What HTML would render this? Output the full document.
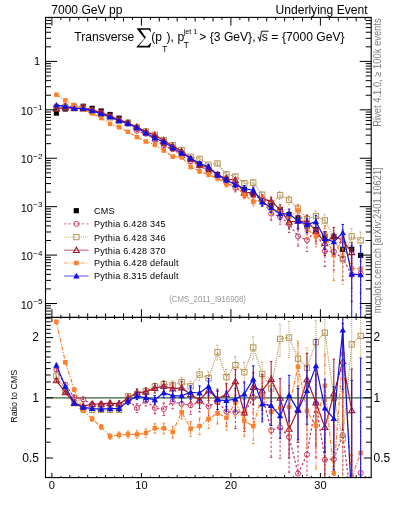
<!DOCTYPE html><html><head><meta charset="utf-8"><style>html,body{margin:0;padding:0;background:#fff;width:393px;height:512px;overflow:hidden}svg{display:block;will-change:transform}</style></head><body>
<svg width="393" height="512" viewBox="0 0 393 512" font-family='"Liberation Sans", sans-serif'>
<defs>
<clipPath id="ct"><rect x="45.5" y="17.4" width="325.7" height="300.0"/></clipPath>
<clipPath id="cr"><rect x="45.5" y="317.4" width="325.7" height="160.20000000000005"/></clipPath>
</defs>
<g clip-path="url(#ct)">
<rect x="53.77" y="110.50" width="5.2" height="5.2" fill="#000"/>
<rect x="62.73" y="106.40" width="5.2" height="5.2" fill="#000"/>
<rect x="71.68" y="104.40" width="5.2" height="5.2" fill="#000"/>
<rect x="80.62" y="103.70" width="5.2" height="5.2" fill="#000"/>
<rect x="89.58" y="105.70" width="5.2" height="5.2" fill="#000"/>
<rect x="98.53" y="108.40" width="5.2" height="5.2" fill="#000"/>
<rect x="107.47" y="111.90" width="5.2" height="5.2" fill="#000"/>
<rect x="116.43" y="115.60" width="5.2" height="5.2" fill="#000"/>
<rect x="125.38" y="120.30" width="5.2" height="5.2" fill="#000"/>
<rect x="134.32" y="125.60" width="5.2" height="5.2" fill="#000"/>
<rect x="143.28" y="130.40" width="5.2" height="5.2" fill="#000"/>
<rect x="152.22" y="134.90" width="5.2" height="5.2" fill="#000"/>
<rect x="161.17" y="140.60" width="5.2" height="5.2" fill="#000"/>
<rect x="170.12" y="145.70" width="5.2" height="5.2" fill="#000"/>
<rect x="179.07" y="151.20" width="5.2" height="5.2" fill="#000"/>
<rect x="188.03" y="156.90" width="5.2" height="5.2" fill="#000"/>
<rect x="196.97" y="161.90" width="5.2" height="5.2" fill="#000"/>
<rect x="205.93" y="166.90" width="5.2" height="5.2" fill="#000"/>
<rect x="214.88" y="171.90" width="5.2" height="5.2" fill="#000"/>
<rect x="223.82" y="176.70" width="5.2" height="5.2" fill="#000"/>
<rect x="232.78" y="181.80" width="5.2" height="5.2" fill="#000"/>
<rect x="241.72" y="186.80" width="5.2" height="5.2" fill="#000"/>
<rect x="250.67" y="192.20" width="5.2" height="5.2" fill="#000"/>
<rect x="259.62" y="197.90" width="5.2" height="5.2" fill="#000"/>
<rect x="268.57" y="203.20" width="5.2" height="5.2" fill="#000"/>
<rect x="277.52" y="206.90" width="5.2" height="5.2" fill="#000"/>
<rect x="286.47" y="211.90" width="5.2" height="5.2" fill="#000"/>
<rect x="295.42" y="215.40" width="5.2" height="5.2" fill="#000"/>
<rect x="304.37" y="223.70" width="5.2" height="5.2" fill="#000"/>
<rect x="313.32" y="226.90" width="5.2" height="5.2" fill="#000"/>
<rect x="322.27" y="233.60" width="5.2" height="5.2" fill="#000"/>
<rect x="331.22" y="234.20" width="5.2" height="5.2" fill="#000"/>
<rect x="340.17" y="246.70" width="5.2" height="5.2" fill="#000"/>
<rect x="349.12" y="246.70" width="5.2" height="5.2" fill="#000"/>
<rect x="358.07" y="252.80" width="5.2" height="5.2" fill="#000"/>
<polyline points="56.38,106.33 65.33,105.82 74.28,106.90 83.22,106.68 92.17,109.94 101.12,112.64 110.07,116.14 119.03,119.84 127.97,123.54 136.92,130.67 145.88,133.73 154.82,139.97 163.77,145.91 172.72,149.20 181.67,155.30 190.62,161.30 199.57,165.47 208.53,171.55 217.47,175.56 226.42,182.62 235.38,187.87 244.32,193.07 253.27,194.80 262.22,199.88 271.17,213.66 280.12,216.67 289.07,223.98 298.02,236.34 306.97,240.05 315.92,230.80 324.87,251.20 333.82,251.67 342.77,258.36 351.72,274.62 360.67,273.59" fill="none" stroke="#c8325f" stroke-width="1.2" stroke-dasharray="2.4,2.1"/>
<path d="M56.38,105.93 V106.73 M55.17,105.93 H57.58 M55.17,106.73 H57.58 M65.33,105.38 V106.28 M64.12,105.38 H66.53 M64.12,106.28 H66.53 M74.28,106.40 V107.40 M73.08,106.40 H75.48 M73.08,107.40 H75.48 M83.22,106.13 V107.25 M82.02,106.13 H84.42 M82.02,107.25 H84.42 M92.17,109.32 V110.57 M90.97,109.32 H93.38 M90.97,110.57 H93.38 M101.12,111.95 V113.35 M99.92,111.95 H102.33 M99.92,113.35 H102.33 M110.07,115.38 V116.93 M108.87,115.38 H111.27 M108.87,116.93 H111.27 M119.03,118.99 V120.73 M117.83,118.99 H120.23 M117.83,120.73 H120.23 M127.97,122.59 V124.53 M126.77,122.59 H129.17 M126.77,124.53 H129.17 M136.92,129.62 V131.78 M135.72,129.62 H138.12 M135.72,131.78 H138.12 M145.88,132.55 V134.97 M144.68,132.55 H147.07 M144.68,134.97 H147.07 M154.82,138.67 V141.37 M153.62,138.67 H156.02 M153.62,141.37 H156.02 M163.77,144.46 V147.47 M162.57,144.46 H164.97 M162.57,147.47 H164.97 M172.72,147.59 V150.95 M171.53,147.59 H173.92 M171.53,150.95 H173.92 M181.67,153.51 V157.27 M180.47,153.51 H182.87 M180.47,157.27 H182.87 M190.62,159.30 V163.50 M189.43,159.30 H191.82 M189.43,163.50 H191.82 M199.57,163.25 V167.94 M198.38,163.25 H200.77 M198.38,167.94 H200.77 M208.53,169.09 V174.34 M207.33,169.09 H209.72 M207.33,174.34 H209.72 M217.47,172.83 V178.69 M216.28,172.83 H218.67 M216.28,178.69 H218.67 M226.42,179.60 V186.15 M225.22,179.60 H227.62 M225.22,186.15 H227.62 M235.38,184.52 V191.85 M234.18,184.52 H236.57 M234.18,191.85 H236.57 M244.32,189.36 V197.56 M243.12,189.36 H245.52 M243.12,197.56 H245.52 M253.27,190.71 V199.89 M252.07,190.71 H254.47 M252.07,199.89 H254.47 M262.22,195.36 V205.65 M261.02,195.36 H263.42 M261.02,205.65 H263.42 M271.17,208.67 V220.22 M269.97,208.67 H272.37 M269.97,220.22 H272.37 M280.12,211.17 V224.14 M278.93,211.17 H281.32 M278.93,224.14 H281.32 M289.07,217.93 V232.52 M287.88,217.93 H290.27 M287.88,232.52 H290.27 M298.02,229.68 V246.14 M296.82,229.68 H299.22 M296.82,246.14 H299.22 M306.97,232.74 V251.35 M305.77,232.74 H308.17 M305.77,251.35 H308.17 M315.92,222.78 V243.92 M314.72,222.78 H317.12 M314.72,243.92 H317.12 M324.87,242.42 V266.55 M323.67,242.42 H326.07 M323.67,266.55 H326.07 M333.82,242.08 V269.83 M332.62,242.08 H335.02 M332.62,269.83 H335.02 M342.77,247.88 V280.17 M341.57,247.88 H343.97 M341.57,280.17 H343.97 M351.72,263.21 V301.44 M350.52,263.21 H352.92 M350.52,301.44 H352.92 M360.67,261.18 V307.91 M359.47,261.18 H361.87 M359.47,307.91 H361.87" stroke="#c8325f" stroke-width="1" stroke-dasharray="2.4,2.1" fill="none"/>
<circle cx="56.38" cy="106.33" r="2.55" fill="none" stroke="#c8325f" stroke-width="0.95"/>
<circle cx="65.33" cy="105.82" r="2.55" fill="none" stroke="#c8325f" stroke-width="0.95"/>
<circle cx="74.28" cy="106.90" r="2.55" fill="none" stroke="#c8325f" stroke-width="0.95"/>
<circle cx="83.22" cy="106.68" r="2.55" fill="none" stroke="#c8325f" stroke-width="0.95"/>
<circle cx="92.17" cy="109.94" r="2.55" fill="none" stroke="#c8325f" stroke-width="0.95"/>
<circle cx="101.12" cy="112.64" r="2.55" fill="none" stroke="#c8325f" stroke-width="0.95"/>
<circle cx="110.07" cy="116.14" r="2.55" fill="none" stroke="#c8325f" stroke-width="0.95"/>
<circle cx="119.03" cy="119.84" r="2.55" fill="none" stroke="#c8325f" stroke-width="0.95"/>
<circle cx="127.97" cy="123.54" r="2.55" fill="none" stroke="#c8325f" stroke-width="0.95"/>
<circle cx="136.92" cy="130.67" r="2.55" fill="none" stroke="#c8325f" stroke-width="0.95"/>
<circle cx="145.88" cy="133.73" r="2.55" fill="none" stroke="#c8325f" stroke-width="0.95"/>
<circle cx="154.82" cy="139.97" r="2.55" fill="none" stroke="#c8325f" stroke-width="0.95"/>
<circle cx="163.77" cy="145.91" r="2.55" fill="none" stroke="#c8325f" stroke-width="0.95"/>
<circle cx="172.72" cy="149.20" r="2.55" fill="none" stroke="#c8325f" stroke-width="0.95"/>
<circle cx="181.67" cy="155.30" r="2.55" fill="none" stroke="#c8325f" stroke-width="0.95"/>
<circle cx="190.62" cy="161.30" r="2.55" fill="none" stroke="#c8325f" stroke-width="0.95"/>
<circle cx="199.57" cy="165.47" r="2.55" fill="none" stroke="#c8325f" stroke-width="0.95"/>
<circle cx="208.53" cy="171.55" r="2.55" fill="none" stroke="#c8325f" stroke-width="0.95"/>
<circle cx="217.47" cy="175.56" r="2.55" fill="none" stroke="#c8325f" stroke-width="0.95"/>
<circle cx="226.42" cy="182.62" r="2.55" fill="none" stroke="#c8325f" stroke-width="0.95"/>
<circle cx="235.38" cy="187.87" r="2.55" fill="none" stroke="#c8325f" stroke-width="0.95"/>
<circle cx="244.32" cy="193.07" r="2.55" fill="none" stroke="#c8325f" stroke-width="0.95"/>
<circle cx="253.27" cy="194.80" r="2.55" fill="none" stroke="#c8325f" stroke-width="0.95"/>
<circle cx="262.22" cy="199.88" r="2.55" fill="none" stroke="#c8325f" stroke-width="0.95"/>
<circle cx="271.17" cy="213.66" r="2.55" fill="none" stroke="#c8325f" stroke-width="0.95"/>
<circle cx="280.12" cy="216.67" r="2.55" fill="none" stroke="#c8325f" stroke-width="0.95"/>
<circle cx="289.07" cy="223.98" r="2.55" fill="none" stroke="#c8325f" stroke-width="0.95"/>
<circle cx="298.02" cy="236.34" r="2.55" fill="none" stroke="#c8325f" stroke-width="0.95"/>
<circle cx="306.97" cy="240.05" r="2.55" fill="none" stroke="#c8325f" stroke-width="0.95"/>
<circle cx="315.92" cy="230.80" r="2.55" fill="none" stroke="#c8325f" stroke-width="0.95"/>
<circle cx="324.87" cy="251.20" r="2.55" fill="none" stroke="#c8325f" stroke-width="0.95"/>
<circle cx="333.82" cy="251.67" r="2.55" fill="none" stroke="#c8325f" stroke-width="0.95"/>
<circle cx="342.77" cy="258.36" r="2.55" fill="none" stroke="#c8325f" stroke-width="0.95"/>
<circle cx="351.72" cy="274.62" r="2.55" fill="none" stroke="#c8325f" stroke-width="0.95"/>
<circle cx="360.67" cy="273.59" r="2.55" fill="none" stroke="#c8325f" stroke-width="0.95"/>
<polyline points="56.38,107.79 65.33,107.23 74.28,108.30 83.22,108.87 92.17,111.23 101.12,113.93 110.07,117.43 119.03,121.13 127.97,122.55 136.92,127.38 145.88,131.38 154.82,134.74 163.77,139.92 172.72,145.18 181.67,150.02 190.62,156.71 199.57,158.87 208.53,164.74 217.47,163.47 226.42,174.31 235.38,176.51 244.32,183.21 253.27,182.62 262.22,194.73 271.17,203.55 280.12,195.24 289.07,199.92 298.02,208.53 306.97,219.02 315.92,216.04 324.87,220.43 333.82,236.80 342.77,259.12 351.72,236.36 360.67,240.41" fill="none" stroke="#b38f4f" stroke-width="1.2" stroke-dasharray="1,1.1"/>
<path d="M56.38,107.55 V108.04 M55.17,107.55 H57.58 M55.17,108.04 H57.58 M65.33,106.95 V107.50 M64.12,106.95 H66.53 M64.12,107.50 H66.53 M74.28,108.00 V108.61 M73.08,108.00 H75.48 M73.08,108.61 H75.48 M83.22,108.53 V109.22 M82.02,108.53 H84.42 M82.02,109.22 H84.42 M92.17,110.85 V111.62 M90.97,110.85 H93.38 M90.97,111.62 H93.38 M101.12,113.50 V114.36 M99.92,113.50 H102.33 M99.92,114.36 H102.33 M110.07,116.96 V117.91 M108.87,116.96 H111.27 M108.87,117.91 H111.27 M119.03,120.60 V121.67 M117.83,120.60 H120.23 M117.83,121.67 H120.23 M127.97,121.96 V123.15 M126.77,121.96 H129.17 M126.77,123.15 H129.17 M136.92,126.72 V128.05 M135.72,126.72 H138.12 M135.72,128.05 H138.12 M145.88,130.65 V132.14 M144.68,130.65 H147.07 M144.68,132.14 H147.07 M154.82,133.93 V135.59 M153.62,133.93 H156.02 M153.62,135.59 H156.02 M163.77,139.01 V140.86 M162.57,139.01 H164.97 M162.57,140.86 H164.97 M172.72,144.17 V146.24 M171.53,144.17 H173.92 M171.53,146.24 H173.92 M181.67,148.90 V151.21 M180.47,148.90 H182.87 M180.47,151.21 H182.87 M190.62,155.46 V158.04 M189.43,155.46 H191.82 M189.43,158.04 H191.82 M199.57,157.48 V160.36 M198.38,157.48 H200.77 M198.38,160.36 H200.77 M208.53,163.19 V166.41 M207.33,163.19 H209.72 M207.33,166.41 H209.72 M217.47,161.75 V165.34 M216.28,161.75 H218.67 M216.28,165.34 H218.67 M226.42,172.40 V176.41 M225.22,172.40 H227.62 M225.22,176.41 H227.62 M235.38,174.39 V178.87 M234.18,174.39 H236.57 M234.18,178.87 H236.57 M244.32,180.86 V185.87 M243.12,180.86 H245.52 M243.12,185.87 H245.52 M253.27,180.00 V185.60 M252.07,180.00 H254.47 M252.07,185.60 H254.47 M262.22,191.83 V198.08 M261.02,191.83 H263.42 M261.02,198.08 H263.42 M271.17,200.34 V207.34 M269.97,200.34 H272.37 M269.97,207.34 H272.37 M280.12,191.69 V199.52 M278.93,191.69 H281.32 M278.93,199.52 H281.32 M289.07,196.00 V204.76 M287.88,196.00 H290.27 M287.88,204.76 H290.27 M298.02,204.19 V214.00 M296.82,204.19 H299.22 M296.82,214.00 H299.22 M306.97,214.22 V225.23 M305.77,214.22 H308.17 M305.77,225.23 H308.17 M315.92,210.75 V223.11 M314.72,210.75 H317.12 M314.72,223.11 H317.12 M324.87,214.61 V228.50 M323.67,214.61 H326.07 M323.67,228.50 H326.07 M333.82,230.40 V246.05 M332.62,230.40 H335.02 M332.62,246.05 H335.02 M342.77,247.96 V284.43 M341.57,247.96 H343.97 M341.57,284.43 H343.97 M351.72,228.64 V248.69 M350.52,228.64 H352.92 M350.52,248.69 H352.92 M360.67,231.95 V254.78 M359.47,231.95 H361.87 M359.47,254.78 H361.87" stroke="#b38f4f" stroke-width="1" stroke-dasharray="1,1.1" fill="none"/>
<rect x="53.73" y="105.14" width="5.30" height="5.30" fill="none" stroke="#b38f4f" stroke-width="0.95"/>
<rect x="62.68" y="104.58" width="5.30" height="5.30" fill="none" stroke="#b38f4f" stroke-width="0.95"/>
<rect x="71.62" y="105.65" width="5.30" height="5.30" fill="none" stroke="#b38f4f" stroke-width="0.95"/>
<rect x="80.57" y="106.22" width="5.30" height="5.30" fill="none" stroke="#b38f4f" stroke-width="0.95"/>
<rect x="89.52" y="108.58" width="5.30" height="5.30" fill="none" stroke="#b38f4f" stroke-width="0.95"/>
<rect x="98.47" y="111.28" width="5.30" height="5.30" fill="none" stroke="#b38f4f" stroke-width="0.95"/>
<rect x="107.42" y="114.78" width="5.30" height="5.30" fill="none" stroke="#b38f4f" stroke-width="0.95"/>
<rect x="116.38" y="118.48" width="5.30" height="5.30" fill="none" stroke="#b38f4f" stroke-width="0.95"/>
<rect x="125.32" y="119.90" width="5.30" height="5.30" fill="none" stroke="#b38f4f" stroke-width="0.95"/>
<rect x="134.27" y="124.73" width="5.30" height="5.30" fill="none" stroke="#b38f4f" stroke-width="0.95"/>
<rect x="143.22" y="128.73" width="5.30" height="5.30" fill="none" stroke="#b38f4f" stroke-width="0.95"/>
<rect x="152.17" y="132.09" width="5.30" height="5.30" fill="none" stroke="#b38f4f" stroke-width="0.95"/>
<rect x="161.12" y="137.27" width="5.30" height="5.30" fill="none" stroke="#b38f4f" stroke-width="0.95"/>
<rect x="170.07" y="142.53" width="5.30" height="5.30" fill="none" stroke="#b38f4f" stroke-width="0.95"/>
<rect x="179.02" y="147.37" width="5.30" height="5.30" fill="none" stroke="#b38f4f" stroke-width="0.95"/>
<rect x="187.97" y="154.06" width="5.30" height="5.30" fill="none" stroke="#b38f4f" stroke-width="0.95"/>
<rect x="196.92" y="156.22" width="5.30" height="5.30" fill="none" stroke="#b38f4f" stroke-width="0.95"/>
<rect x="205.88" y="162.09" width="5.30" height="5.30" fill="none" stroke="#b38f4f" stroke-width="0.95"/>
<rect x="214.82" y="160.82" width="5.30" height="5.30" fill="none" stroke="#b38f4f" stroke-width="0.95"/>
<rect x="223.77" y="171.66" width="5.30" height="5.30" fill="none" stroke="#b38f4f" stroke-width="0.95"/>
<rect x="232.72" y="173.86" width="5.30" height="5.30" fill="none" stroke="#b38f4f" stroke-width="0.95"/>
<rect x="241.67" y="180.56" width="5.30" height="5.30" fill="none" stroke="#b38f4f" stroke-width="0.95"/>
<rect x="250.62" y="179.97" width="5.30" height="5.30" fill="none" stroke="#b38f4f" stroke-width="0.95"/>
<rect x="259.57" y="192.08" width="5.30" height="5.30" fill="none" stroke="#b38f4f" stroke-width="0.95"/>
<rect x="268.52" y="200.90" width="5.30" height="5.30" fill="none" stroke="#b38f4f" stroke-width="0.95"/>
<rect x="277.48" y="192.59" width="5.30" height="5.30" fill="none" stroke="#b38f4f" stroke-width="0.95"/>
<rect x="286.43" y="197.27" width="5.30" height="5.30" fill="none" stroke="#b38f4f" stroke-width="0.95"/>
<rect x="295.38" y="205.88" width="5.30" height="5.30" fill="none" stroke="#b38f4f" stroke-width="0.95"/>
<rect x="304.32" y="216.37" width="5.30" height="5.30" fill="none" stroke="#b38f4f" stroke-width="0.95"/>
<rect x="313.27" y="213.39" width="5.30" height="5.30" fill="none" stroke="#b38f4f" stroke-width="0.95"/>
<rect x="322.22" y="217.78" width="5.30" height="5.30" fill="none" stroke="#b38f4f" stroke-width="0.95"/>
<rect x="331.17" y="234.15" width="5.30" height="5.30" fill="none" stroke="#b38f4f" stroke-width="0.95"/>
<rect x="340.12" y="256.47" width="5.30" height="5.30" fill="none" stroke="#b38f4f" stroke-width="0.95"/>
<rect x="349.07" y="233.71" width="5.30" height="5.30" fill="none" stroke="#b38f4f" stroke-width="0.95"/>
<rect x="358.02" y="237.76" width="5.30" height="5.30" fill="none" stroke="#b38f4f" stroke-width="0.95"/>
<polyline points="56.38,108.92 65.33,107.72 74.28,108.30 83.22,108.33 92.17,109.80 101.12,112.48 110.07,115.78 119.03,119.68 127.97,123.01 136.92,126.94 145.88,131.58 154.82,135.17 163.77,140.39 172.72,146.12 181.67,151.34 190.62,158.68 199.57,165.03 208.53,167.78 217.47,174.71 226.42,178.48 235.38,180.44 244.32,193.02 253.27,192.23 262.22,198.77 271.17,201.31 280.12,209.56 289.07,222.06 298.02,220.88 306.97,221.86 315.92,230.69 324.87,243.34 333.82,235.83 342.77,240.50 351.72,252.35" fill="none" stroke="#a51931" stroke-width="1.2"/>
<path d="M56.38,108.58 V109.26 M55.17,108.58 H57.58 M55.17,109.26 H57.58 M65.33,107.34 V108.10 M64.12,107.34 H66.53 M64.12,108.10 H66.53 M74.28,107.88 V108.73 M73.08,107.88 H75.48 M73.08,108.73 H75.48 M83.22,107.86 V108.81 M82.02,107.86 H84.42 M82.02,108.81 H84.42 M92.17,109.28 V110.34 M90.97,109.28 H93.38 M90.97,110.34 H93.38 M101.12,111.90 V113.08 M99.92,111.90 H102.33 M99.92,113.08 H102.33 M110.07,115.13 V116.45 M108.87,115.13 H111.27 M108.87,116.45 H111.27 M119.03,118.96 V120.43 M117.83,118.96 H120.23 M117.83,120.43 H120.23 M127.97,122.20 V123.84 M126.77,122.20 H129.17 M126.77,123.84 H129.17 M136.92,126.04 V127.87 M135.72,126.04 H138.12 M135.72,127.87 H138.12 M145.88,130.58 V132.62 M144.68,130.58 H147.07 M144.68,132.62 H147.07 M154.82,134.06 V136.35 M153.62,134.06 H156.02 M153.62,136.35 H156.02 M163.77,139.15 V141.70 M162.57,139.15 H164.97 M162.57,141.70 H164.97 M172.72,144.75 V147.60 M171.53,144.75 H173.92 M171.53,147.60 H173.92 M181.67,149.81 V152.99 M180.47,149.81 H182.87 M180.47,152.99 H182.87 M190.62,156.98 V160.52 M189.43,156.98 H191.82 M189.43,160.52 H191.82 M199.57,163.14 V167.11 M198.38,163.14 H200.77 M198.38,167.11 H200.77 M208.53,165.69 V170.12 M207.33,165.69 H209.72 M207.33,170.12 H209.72 M217.47,172.38 V177.33 M216.28,172.38 H218.67 M216.28,177.33 H218.67 M226.42,175.89 V181.42 M225.22,175.89 H227.62 M225.22,181.42 H227.62 M235.38,177.58 V183.76 M234.18,177.58 H236.57 M234.18,183.76 H236.57 M244.32,189.84 V196.76 M243.12,189.84 H245.52 M243.12,196.76 H245.52 M253.27,188.72 V196.45 M252.07,188.72 H254.47 M252.07,196.45 H254.47 M262.22,194.88 V203.54 M261.02,194.88 H263.42 M261.02,203.54 H263.42 M271.17,197.02 V206.71 M269.97,197.02 H272.37 M269.97,206.71 H272.37 M280.12,204.82 V215.70 M278.93,204.82 H281.32 M278.93,215.70 H281.32 M289.07,216.83 V229.04 M287.88,216.83 H290.27 M287.88,229.04 H290.27 M298.02,215.12 V228.84 M296.82,215.12 H299.22 M296.82,228.84 H299.22 M306.97,215.52 V230.98 M305.77,215.52 H308.17 M305.77,230.98 H308.17 M315.92,223.72 V241.18 M314.72,223.72 H317.12 M314.72,241.18 H317.12 M324.87,235.70 V255.48 M323.67,235.70 H326.07 M323.67,255.48 H326.07 M333.82,227.46 V249.97 M332.62,227.46 H335.02 M332.62,249.97 H335.02 M342.77,231.33 V257.11 M341.57,231.33 H343.97 M341.57,257.11 H343.97 M351.72,242.34 V272.14 M350.52,242.34 H352.92 M350.52,272.14 H352.92" stroke="#a51931" stroke-width="1" fill="none"/>
<path d="M56.38,105.92 L59.38,111.17 L53.38,111.17 Z" fill="none" stroke="#a51931" stroke-width="1.1"/>
<path d="M65.33,104.72 L68.33,109.97 L62.33,109.97 Z" fill="none" stroke="#a51931" stroke-width="1.1"/>
<path d="M74.28,105.30 L77.28,110.55 L71.28,110.55 Z" fill="none" stroke="#a51931" stroke-width="1.1"/>
<path d="M83.22,105.33 L86.22,110.58 L80.22,110.58 Z" fill="none" stroke="#a51931" stroke-width="1.1"/>
<path d="M92.17,106.80 L95.17,112.05 L89.17,112.05 Z" fill="none" stroke="#a51931" stroke-width="1.1"/>
<path d="M101.12,109.48 L104.12,114.73 L98.12,114.73 Z" fill="none" stroke="#a51931" stroke-width="1.1"/>
<path d="M110.07,112.78 L113.07,118.03 L107.07,118.03 Z" fill="none" stroke="#a51931" stroke-width="1.1"/>
<path d="M119.03,116.68 L122.03,121.93 L116.03,121.93 Z" fill="none" stroke="#a51931" stroke-width="1.1"/>
<path d="M127.97,120.01 L130.97,125.26 L124.97,125.26 Z" fill="none" stroke="#a51931" stroke-width="1.1"/>
<path d="M136.92,123.94 L139.92,129.19 L133.92,129.19 Z" fill="none" stroke="#a51931" stroke-width="1.1"/>
<path d="M145.88,128.58 L148.88,133.83 L142.88,133.83 Z" fill="none" stroke="#a51931" stroke-width="1.1"/>
<path d="M154.82,132.17 L157.82,137.42 L151.82,137.42 Z" fill="none" stroke="#a51931" stroke-width="1.1"/>
<path d="M163.77,137.39 L166.77,142.64 L160.77,142.64 Z" fill="none" stroke="#a51931" stroke-width="1.1"/>
<path d="M172.72,143.12 L175.72,148.37 L169.72,148.37 Z" fill="none" stroke="#a51931" stroke-width="1.1"/>
<path d="M181.67,148.34 L184.67,153.59 L178.67,153.59 Z" fill="none" stroke="#a51931" stroke-width="1.1"/>
<path d="M190.62,155.68 L193.62,160.93 L187.62,160.93 Z" fill="none" stroke="#a51931" stroke-width="1.1"/>
<path d="M199.57,162.03 L202.57,167.28 L196.57,167.28 Z" fill="none" stroke="#a51931" stroke-width="1.1"/>
<path d="M208.53,164.78 L211.53,170.03 L205.53,170.03 Z" fill="none" stroke="#a51931" stroke-width="1.1"/>
<path d="M217.47,171.71 L220.47,176.96 L214.47,176.96 Z" fill="none" stroke="#a51931" stroke-width="1.1"/>
<path d="M226.42,175.48 L229.42,180.73 L223.42,180.73 Z" fill="none" stroke="#a51931" stroke-width="1.1"/>
<path d="M235.38,177.44 L238.38,182.69 L232.38,182.69 Z" fill="none" stroke="#a51931" stroke-width="1.1"/>
<path d="M244.32,190.02 L247.32,195.27 L241.32,195.27 Z" fill="none" stroke="#a51931" stroke-width="1.1"/>
<path d="M253.27,189.23 L256.27,194.48 L250.27,194.48 Z" fill="none" stroke="#a51931" stroke-width="1.1"/>
<path d="M262.22,195.77 L265.22,201.02 L259.22,201.02 Z" fill="none" stroke="#a51931" stroke-width="1.1"/>
<path d="M271.17,198.31 L274.17,203.56 L268.17,203.56 Z" fill="none" stroke="#a51931" stroke-width="1.1"/>
<path d="M280.12,206.56 L283.12,211.81 L277.12,211.81 Z" fill="none" stroke="#a51931" stroke-width="1.1"/>
<path d="M289.07,219.06 L292.07,224.31 L286.07,224.31 Z" fill="none" stroke="#a51931" stroke-width="1.1"/>
<path d="M298.02,217.88 L301.02,223.13 L295.02,223.13 Z" fill="none" stroke="#a51931" stroke-width="1.1"/>
<path d="M306.97,218.86 L309.97,224.11 L303.97,224.11 Z" fill="none" stroke="#a51931" stroke-width="1.1"/>
<path d="M315.92,227.69 L318.92,232.94 L312.92,232.94 Z" fill="none" stroke="#a51931" stroke-width="1.1"/>
<path d="M324.87,240.34 L327.87,245.59 L321.87,245.59 Z" fill="none" stroke="#a51931" stroke-width="1.1"/>
<path d="M333.82,232.83 L336.82,238.08 L330.82,238.08 Z" fill="none" stroke="#a51931" stroke-width="1.1"/>
<path d="M342.77,237.50 L345.77,242.75 L339.77,242.75 Z" fill="none" stroke="#a51931" stroke-width="1.1"/>
<path d="M351.72,249.35 L354.72,254.60 L348.72,254.60 Z" fill="none" stroke="#a51931" stroke-width="1.1"/>
<polyline points="56.38,94.69 65.33,100.39 74.28,105.01 83.22,109.42 92.17,113.42 101.12,118.05 110.07,123.85 119.03,127.19 127.97,131.77 136.92,137.07 145.88,141.52 154.82,144.88 163.77,150.58 172.72,156.57 181.67,157.29 190.62,166.97 199.57,171.32 208.53,174.62 217.47,178.22 226.42,184.15 235.38,185.48 244.32,194.98 253.27,201.68 262.22,199.72 271.17,209.22 280.12,211.93 289.07,216.72 298.02,210.48 306.97,229.47 315.92,236.26 324.87,233.26 333.82,255.04 342.77,238.69 351.72,268.57 360.67,268.75" fill="none" stroke="#ff7f2a" stroke-width="1.2" stroke-dasharray="4.2,1.5,1.2,1.5"/>
<path d="M56.38,94.35 V95.03 M55.17,94.35 H57.58 M55.17,95.03 H57.58 M65.33,100.01 V100.77 M64.12,100.01 H66.53 M64.12,100.77 H66.53 M74.28,104.60 V105.44 M73.08,104.60 H75.48 M73.08,105.44 H75.48 M83.22,108.96 V109.90 M82.02,108.96 H84.42 M82.02,109.90 H84.42 M92.17,112.90 V113.95 M90.97,112.90 H93.38 M90.97,113.95 H93.38 M101.12,117.47 V118.65 M99.92,117.47 H102.33 M99.92,118.65 H102.33 M110.07,123.20 V124.52 M108.87,123.20 H111.27 M108.87,124.52 H111.27 M119.03,126.47 V127.94 M117.83,126.47 H120.23 M117.83,127.94 H120.23 M127.97,130.96 V132.60 M126.77,130.96 H129.17 M126.77,132.60 H129.17 M136.92,136.17 V138.00 M135.72,136.17 H138.12 M135.72,138.00 H138.12 M145.88,140.52 V142.56 M144.68,140.52 H147.07 M144.68,142.56 H147.07 M154.82,143.77 V146.05 M153.62,143.77 H156.02 M153.62,146.05 H156.02 M163.77,149.34 V151.89 M162.57,149.34 H164.97 M162.57,151.89 H164.97 M172.72,155.19 V158.04 M171.53,155.19 H173.92 M171.53,158.04 H173.92 M181.67,155.76 V158.94 M180.47,155.76 H182.87 M180.47,158.94 H182.87 M190.62,165.27 V168.82 M189.43,165.27 H191.82 M189.43,168.82 H191.82 M199.57,169.43 V173.40 M198.38,169.43 H200.77 M198.38,173.40 H200.77 M208.53,172.52 V176.95 M207.33,172.52 H209.72 M207.33,176.95 H209.72 M217.47,175.89 V180.84 M216.28,175.89 H218.67 M216.28,180.84 H218.67 M226.42,181.57 V187.10 M225.22,181.57 H227.62 M225.22,187.10 H227.62 M235.38,182.61 V188.80 M234.18,182.61 H236.57 M234.18,188.80 H236.57 M244.32,191.80 V198.72 M243.12,191.80 H245.52 M243.12,198.72 H245.52 M253.27,198.17 V205.90 M252.07,198.17 H254.47 M252.07,205.90 H254.47 M262.22,195.83 V204.49 M261.02,195.83 H263.42 M261.02,204.49 H263.42 M271.17,204.92 V214.62 M269.97,204.92 H272.37 M269.97,214.62 H272.37 M280.12,207.19 V218.06 M278.93,207.19 H281.32 M278.93,218.06 H281.32 M289.07,211.49 V223.69 M287.88,211.49 H290.27 M287.88,223.69 H290.27 M298.02,204.72 V218.44 M296.82,204.72 H299.22 M296.82,218.44 H299.22 M306.97,223.13 V238.59 M305.77,223.13 H308.17 M305.77,238.59 H308.17 M315.92,229.30 V246.75 M314.72,229.30 H317.12 M314.72,246.75 H317.12 M324.87,225.62 V245.39 M323.67,225.62 H326.07 M323.67,245.39 H326.07 M333.82,243.88 V280.36 M332.62,243.88 H335.02 M332.62,280.36 H335.02 M342.77,229.53 V255.31 M341.57,229.53 H343.97 M341.57,255.31 H343.97 M351.72,258.56 V288.36 M350.52,258.56 H352.92 M350.52,288.36 H352.92 M360.67,257.83 V292.76 M359.47,257.83 H361.87 M359.47,292.76 H361.87" stroke="#ff7f2a" stroke-width="1" stroke-dasharray="4.2,1.5,1.2,1.5" fill="none"/>
<rect x="54.12" y="92.44" width="4.50" height="4.50" fill="#ff7f2a"/>
<rect x="63.08" y="98.14" width="4.50" height="4.50" fill="#ff7f2a"/>
<rect x="72.03" y="102.76" width="4.50" height="4.50" fill="#ff7f2a"/>
<rect x="80.97" y="107.17" width="4.50" height="4.50" fill="#ff7f2a"/>
<rect x="89.92" y="111.17" width="4.50" height="4.50" fill="#ff7f2a"/>
<rect x="98.88" y="115.80" width="4.50" height="4.50" fill="#ff7f2a"/>
<rect x="107.82" y="121.60" width="4.50" height="4.50" fill="#ff7f2a"/>
<rect x="116.78" y="124.94" width="4.50" height="4.50" fill="#ff7f2a"/>
<rect x="125.72" y="129.52" width="4.50" height="4.50" fill="#ff7f2a"/>
<rect x="134.67" y="134.82" width="4.50" height="4.50" fill="#ff7f2a"/>
<rect x="143.62" y="139.27" width="4.50" height="4.50" fill="#ff7f2a"/>
<rect x="152.57" y="142.63" width="4.50" height="4.50" fill="#ff7f2a"/>
<rect x="161.52" y="148.33" width="4.50" height="4.50" fill="#ff7f2a"/>
<rect x="170.47" y="154.32" width="4.50" height="4.50" fill="#ff7f2a"/>
<rect x="179.42" y="155.04" width="4.50" height="4.50" fill="#ff7f2a"/>
<rect x="188.38" y="164.72" width="4.50" height="4.50" fill="#ff7f2a"/>
<rect x="197.32" y="169.07" width="4.50" height="4.50" fill="#ff7f2a"/>
<rect x="206.28" y="172.37" width="4.50" height="4.50" fill="#ff7f2a"/>
<rect x="215.22" y="175.97" width="4.50" height="4.50" fill="#ff7f2a"/>
<rect x="224.17" y="181.90" width="4.50" height="4.50" fill="#ff7f2a"/>
<rect x="233.12" y="183.23" width="4.50" height="4.50" fill="#ff7f2a"/>
<rect x="242.07" y="192.73" width="4.50" height="4.50" fill="#ff7f2a"/>
<rect x="251.02" y="199.43" width="4.50" height="4.50" fill="#ff7f2a"/>
<rect x="259.97" y="197.47" width="4.50" height="4.50" fill="#ff7f2a"/>
<rect x="268.92" y="206.97" width="4.50" height="4.50" fill="#ff7f2a"/>
<rect x="277.88" y="209.68" width="4.50" height="4.50" fill="#ff7f2a"/>
<rect x="286.82" y="214.47" width="4.50" height="4.50" fill="#ff7f2a"/>
<rect x="295.77" y="208.23" width="4.50" height="4.50" fill="#ff7f2a"/>
<rect x="304.72" y="227.22" width="4.50" height="4.50" fill="#ff7f2a"/>
<rect x="313.67" y="234.01" width="4.50" height="4.50" fill="#ff7f2a"/>
<rect x="322.62" y="231.01" width="4.50" height="4.50" fill="#ff7f2a"/>
<rect x="331.57" y="252.79" width="4.50" height="4.50" fill="#ff7f2a"/>
<rect x="340.52" y="236.44" width="4.50" height="4.50" fill="#ff7f2a"/>
<rect x="349.47" y="266.32" width="4.50" height="4.50" fill="#ff7f2a"/>
<rect x="358.42" y="266.50" width="4.50" height="4.50" fill="#ff7f2a"/>
<polyline points="56.38,105.21 65.33,106.28 74.28,108.30 83.22,108.63 92.17,110.89 101.12,113.76 110.07,117.09 119.03,120.79 127.97,123.76 136.92,127.78 145.88,133.00 154.82,137.99 163.77,141.97 172.72,147.82 181.67,153.32 190.62,158.16 199.57,163.33 208.53,166.74 217.47,174.99 226.42,180.01 235.38,184.70 244.32,188.47 253.27,190.28 262.22,202.03 271.17,207.67 280.12,213.88 289.07,213.88 298.02,221.05 306.97,224.57 315.92,221.76 324.87,238.72 333.82,241.86 342.77,232.91 351.72,274.27 360.67,274.93" fill="none" stroke="#1010e6" stroke-width="1.2"/>
<path d="M56.38,104.91 V105.53 M55.17,104.91 H57.58 M55.17,105.53 H57.58 M65.33,105.94 V106.63 M64.12,105.94 H66.53 M64.12,106.63 H66.53 M74.28,107.92 V108.69 M73.08,107.92 H75.48 M73.08,108.69 H75.48 M83.22,108.21 V109.07 M82.02,108.21 H84.42 M82.02,109.07 H84.42 M92.17,110.42 V111.38 M90.97,110.42 H93.38 M90.97,111.38 H93.38 M101.12,113.23 V114.30 M99.92,113.23 H102.33 M99.92,114.30 H102.33 M110.07,116.50 V117.70 M108.87,116.50 H111.27 M108.87,117.70 H111.27 M119.03,120.14 V121.47 M117.83,120.14 H120.23 M117.83,121.47 H120.23 M127.97,123.03 V124.52 M126.77,123.03 H129.17 M126.77,124.52 H129.17 M136.92,126.97 V128.63 M135.72,126.97 H138.12 M135.72,128.63 H138.12 M145.88,132.09 V133.95 M144.68,132.09 H147.07 M144.68,133.95 H147.07 M154.82,136.98 V139.05 M153.62,136.98 H156.02 M153.62,139.05 H156.02 M163.77,140.85 V143.16 M162.57,140.85 H164.97 M162.57,143.16 H164.97 M172.72,146.57 V149.15 M171.53,146.57 H173.92 M171.53,149.15 H173.92 M181.67,151.93 V154.82 M180.47,151.93 H182.87 M180.47,154.82 H182.87 M190.62,156.61 V159.83 M189.43,156.61 H191.82 M189.43,159.83 H191.82 M199.57,161.61 V165.21 M198.38,161.61 H200.77 M198.38,165.21 H200.77 M208.53,164.83 V168.85 M207.33,164.83 H209.72 M207.33,168.85 H209.72 M217.47,172.86 V177.36 M216.28,172.86 H218.67 M216.28,177.36 H218.67 M226.42,177.64 V182.67 M225.22,177.64 H227.62 M225.22,182.67 H227.62 M235.38,182.08 V187.69 M234.18,182.08 H236.57 M234.18,187.69 H236.57 M244.32,185.57 V191.84 M243.12,185.57 H245.52 M243.12,191.84 H245.52 M253.27,187.06 V194.08 M252.07,187.06 H254.47 M252.07,194.08 H254.47 M262.22,198.46 V206.32 M261.02,198.46 H263.42 M261.02,206.32 H263.42 M271.17,203.73 V212.52 M269.97,203.73 H272.37 M269.97,212.52 H272.37 M280.12,209.53 V219.37 M278.93,209.53 H281.32 M278.93,219.37 H281.32 M289.07,209.07 V220.12 M287.88,209.07 H290.27 M287.88,220.12 H290.27 M298.02,215.75 V228.15 M296.82,215.75 H299.22 M296.82,228.15 H299.22 M306.97,218.73 V232.67 M305.77,218.73 H308.17 M305.77,232.67 H308.17 M315.92,215.34 V231.05 M314.72,215.34 H317.12 M314.72,231.05 H317.12 M324.87,231.67 V249.41 M323.67,231.67 H326.07 M323.67,249.41 H326.07 M333.82,234.12 V254.24 M332.62,234.12 H335.02 M332.62,254.24 H335.02 M342.77,224.43 V247.35 M341.57,224.43 H343.97 M341.57,247.35 H343.97 M351.72,245.12 V330.00 M350.52,245.12 H352.92 M350.52,330.00 H352.92 M360.67,245.78 V330.00 M359.47,245.78 H361.87 M359.47,330.00 H361.87" stroke="#1010e6" stroke-width="1" fill="none"/>
<path d="M56.38,102.01 L59.58,107.61 L53.17,107.61 Z" fill="#1010e6"/>
<path d="M65.33,103.08 L68.53,108.68 L62.12,108.68 Z" fill="#1010e6"/>
<path d="M74.28,105.10 L77.48,110.70 L71.08,110.70 Z" fill="#1010e6"/>
<path d="M83.22,105.43 L86.42,111.03 L80.02,111.03 Z" fill="#1010e6"/>
<path d="M92.17,107.69 L95.38,113.29 L88.97,113.29 Z" fill="#1010e6"/>
<path d="M101.12,110.56 L104.33,116.16 L97.92,116.16 Z" fill="#1010e6"/>
<path d="M110.07,113.89 L113.27,119.49 L106.87,119.49 Z" fill="#1010e6"/>
<path d="M119.03,117.59 L122.23,123.19 L115.83,123.19 Z" fill="#1010e6"/>
<path d="M127.97,120.56 L131.17,126.16 L124.77,126.16 Z" fill="#1010e6"/>
<path d="M136.92,124.58 L140.12,130.18 L133.72,130.18 Z" fill="#1010e6"/>
<path d="M145.88,129.80 L149.07,135.40 L142.68,135.40 Z" fill="#1010e6"/>
<path d="M154.82,134.79 L158.02,140.39 L151.62,140.39 Z" fill="#1010e6"/>
<path d="M163.77,138.77 L166.97,144.37 L160.57,144.37 Z" fill="#1010e6"/>
<path d="M172.72,144.62 L175.92,150.22 L169.53,150.22 Z" fill="#1010e6"/>
<path d="M181.67,150.12 L184.87,155.72 L178.47,155.72 Z" fill="#1010e6"/>
<path d="M190.62,154.96 L193.82,160.56 L187.43,160.56 Z" fill="#1010e6"/>
<path d="M199.57,160.13 L202.77,165.73 L196.38,165.73 Z" fill="#1010e6"/>
<path d="M208.53,163.54 L211.72,169.14 L205.33,169.14 Z" fill="#1010e6"/>
<path d="M217.47,171.79 L220.67,177.39 L214.28,177.39 Z" fill="#1010e6"/>
<path d="M226.42,176.81 L229.62,182.41 L223.22,182.41 Z" fill="#1010e6"/>
<path d="M235.38,181.50 L238.57,187.10 L232.18,187.10 Z" fill="#1010e6"/>
<path d="M244.32,185.27 L247.52,190.87 L241.12,190.87 Z" fill="#1010e6"/>
<path d="M253.27,187.08 L256.47,192.68 L250.07,192.68 Z" fill="#1010e6"/>
<path d="M262.22,198.83 L265.42,204.43 L259.02,204.43 Z" fill="#1010e6"/>
<path d="M271.17,204.47 L274.37,210.07 L267.97,210.07 Z" fill="#1010e6"/>
<path d="M280.12,210.68 L283.32,216.28 L276.93,216.28 Z" fill="#1010e6"/>
<path d="M289.07,210.68 L292.27,216.28 L285.88,216.28 Z" fill="#1010e6"/>
<path d="M298.02,217.85 L301.22,223.45 L294.82,223.45 Z" fill="#1010e6"/>
<path d="M306.97,221.37 L310.17,226.97 L303.77,226.97 Z" fill="#1010e6"/>
<path d="M315.92,218.56 L319.12,224.16 L312.72,224.16 Z" fill="#1010e6"/>
<path d="M324.87,235.52 L328.07,241.12 L321.67,241.12 Z" fill="#1010e6"/>
<path d="M333.82,238.66 L337.02,244.26 L330.62,244.26 Z" fill="#1010e6"/>
<path d="M342.77,229.71 L345.97,235.31 L339.57,235.31 Z" fill="#1010e6"/>
<path d="M351.72,271.07 L354.92,276.67 L348.52,276.67 Z" fill="#1010e6"/>
<path d="M360.67,271.73 L363.87,277.33 L357.47,277.33 Z" fill="#1010e6"/>
</g>
<g clip-path="url(#cr)">
<line x1="45.5" y1="397.80" x2="371.2" y2="397.80" stroke="#356530" stroke-width="1.2"/>
<polyline points="56.38,369.83 65.33,384.69 74.28,397.37 83.22,399.38 92.17,404.57 101.12,404.57 110.07,404.57 119.03,404.57 127.97,400.45 136.92,408.02 145.88,400.80 154.82,408.02 163.77,409.00 172.72,401.53 181.67,404.01 190.62,405.23 199.57,401.80 208.53,406.28 217.47,402.16 226.42,411.51 235.38,412.12 244.32,412.94 253.27,397.80 262.22,395.23 271.17,430.28 280.12,427.42 289.07,436.97 298.02,473.56 306.97,454.59 315.92,403.17 324.87,459.75 333.82,459.22 342.77,435.21 351.72,502.37 360.67,472.94" fill="none" stroke="#c8325f" stroke-width="1.2" stroke-dasharray="2.4,2.1"/>
<path d="M56.38,368.18 V371.50 M55.17,368.18 H57.58 M55.17,371.50 H57.58 M65.33,382.85 V386.56 M64.12,382.85 H66.53 M64.12,386.56 H66.53 M74.28,395.32 V399.46 M73.08,395.32 H75.48 M73.08,399.46 H75.48 M83.22,397.10 V401.72 M82.02,397.10 H84.42 M82.02,401.72 H84.42 M92.17,402.03 V407.19 M90.97,402.03 H93.38 M90.97,407.19 H93.38 M101.12,401.74 V407.50 M99.92,401.74 H102.33 M99.92,407.50 H102.33 M110.07,401.42 V407.84 M108.87,401.42 H111.27 M108.87,407.84 H111.27 M119.03,401.06 V408.23 M117.83,401.06 H120.23 M117.83,408.23 H120.23 M127.97,396.53 V404.54 M126.77,396.53 H129.17 M126.77,404.54 H129.17 M136.92,403.66 V412.60 M135.72,403.66 H138.12 M135.72,412.60 H138.12 M145.88,395.96 V405.94 M144.68,395.96 H147.07 M144.68,405.94 H147.07 M154.82,402.62 V413.77 M153.62,402.62 H156.02 M153.62,413.77 H156.02 M163.77,403.00 V415.45 M162.57,403.00 H164.97 M162.57,415.45 H164.97 M172.72,394.85 V408.75 M171.53,394.85 H173.92 M171.53,408.75 H173.92 M181.67,396.59 V412.12 M180.47,396.59 H182.87 M180.47,412.12 H182.87 M190.62,396.99 V414.33 M189.43,396.99 H191.82 M189.43,414.33 H191.82 M199.57,392.65 V412.02 M198.38,392.65 H200.77 M198.38,412.02 H200.77 M208.53,396.13 V417.77 M207.33,396.13 H209.72 M207.33,417.77 H209.72 M217.47,390.90 V415.10 M216.28,390.90 H218.67 M216.28,415.10 H218.67 M226.42,399.03 V426.08 M225.22,399.03 H227.62 M225.22,426.08 H227.62 M235.38,398.30 V428.56 M234.18,398.30 H236.57 M234.18,428.56 H236.57 M244.32,397.65 V431.51 M243.12,397.65 H245.52 M243.12,431.51 H245.52 M253.27,380.89 V418.81 M252.07,380.89 H254.47 M252.07,418.81 H254.47 M262.22,376.56 V419.06 M261.02,376.56 H263.42 M261.02,419.06 H263.42 M271.17,409.67 V457.35 M269.97,409.67 H272.37 M269.97,457.35 H272.37 M280.12,404.71 V458.27 M278.93,404.71 H281.32 M278.93,458.27 H281.32 M289.07,411.96 V472.23 M287.88,411.96 H290.27 M287.88,472.23 H290.27 M298.02,446.06 V490.00 M296.82,446.06 H299.22 M296.82,490.00 H299.22 M306.97,424.40 V490.00 M305.77,424.40 H308.17 M305.77,490.00 H308.17 M315.92,370.06 V457.36 M314.72,370.06 H317.12 M314.72,457.36 H317.12 M324.87,423.50 V490.00 M323.67,423.50 H326.07 M323.67,490.00 H326.07 M333.82,419.59 V490.00 M332.62,419.59 H335.02 M332.62,490.00 H335.02 M342.77,391.95 V490.00 M341.57,391.95 H343.97 M341.57,490.00 H343.97 M351.72,455.23 V490.00 M350.52,455.23 H352.92 M350.52,490.00 H352.92 M360.67,421.67 V490.00 M359.47,421.67 H361.87 M359.47,490.00 H361.87" stroke="#c8325f" stroke-width="1" stroke-dasharray="2.4,2.1" fill="none"/>
<circle cx="56.38" cy="369.83" r="2.55" fill="none" stroke="#c8325f" stroke-width="0.95"/>
<circle cx="65.33" cy="384.69" r="2.55" fill="none" stroke="#c8325f" stroke-width="0.95"/>
<circle cx="74.28" cy="397.37" r="2.55" fill="none" stroke="#c8325f" stroke-width="0.95"/>
<circle cx="83.22" cy="399.38" r="2.55" fill="none" stroke="#c8325f" stroke-width="0.95"/>
<circle cx="92.17" cy="404.57" r="2.55" fill="none" stroke="#c8325f" stroke-width="0.95"/>
<circle cx="101.12" cy="404.57" r="2.55" fill="none" stroke="#c8325f" stroke-width="0.95"/>
<circle cx="110.07" cy="404.57" r="2.55" fill="none" stroke="#c8325f" stroke-width="0.95"/>
<circle cx="119.03" cy="404.57" r="2.55" fill="none" stroke="#c8325f" stroke-width="0.95"/>
<circle cx="127.97" cy="400.45" r="2.55" fill="none" stroke="#c8325f" stroke-width="0.95"/>
<circle cx="136.92" cy="408.02" r="2.55" fill="none" stroke="#c8325f" stroke-width="0.95"/>
<circle cx="145.88" cy="400.80" r="2.55" fill="none" stroke="#c8325f" stroke-width="0.95"/>
<circle cx="154.82" cy="408.02" r="2.55" fill="none" stroke="#c8325f" stroke-width="0.95"/>
<circle cx="163.77" cy="409.00" r="2.55" fill="none" stroke="#c8325f" stroke-width="0.95"/>
<circle cx="172.72" cy="401.53" r="2.55" fill="none" stroke="#c8325f" stroke-width="0.95"/>
<circle cx="181.67" cy="404.01" r="2.55" fill="none" stroke="#c8325f" stroke-width="0.95"/>
<circle cx="190.62" cy="405.23" r="2.55" fill="none" stroke="#c8325f" stroke-width="0.95"/>
<circle cx="199.57" cy="401.80" r="2.55" fill="none" stroke="#c8325f" stroke-width="0.95"/>
<circle cx="208.53" cy="406.28" r="2.55" fill="none" stroke="#c8325f" stroke-width="0.95"/>
<circle cx="217.47" cy="402.16" r="2.55" fill="none" stroke="#c8325f" stroke-width="0.95"/>
<circle cx="226.42" cy="411.51" r="2.55" fill="none" stroke="#c8325f" stroke-width="0.95"/>
<circle cx="235.38" cy="412.12" r="2.55" fill="none" stroke="#c8325f" stroke-width="0.95"/>
<circle cx="244.32" cy="412.94" r="2.55" fill="none" stroke="#c8325f" stroke-width="0.95"/>
<circle cx="253.27" cy="397.80" r="2.55" fill="none" stroke="#c8325f" stroke-width="0.95"/>
<circle cx="262.22" cy="395.23" r="2.55" fill="none" stroke="#c8325f" stroke-width="0.95"/>
<circle cx="271.17" cy="430.28" r="2.55" fill="none" stroke="#c8325f" stroke-width="0.95"/>
<circle cx="280.12" cy="427.42" r="2.55" fill="none" stroke="#c8325f" stroke-width="0.95"/>
<circle cx="289.07" cy="436.97" r="2.55" fill="none" stroke="#c8325f" stroke-width="0.95"/>
<circle cx="298.02" cy="473.56" r="2.55" fill="none" stroke="#c8325f" stroke-width="0.95"/>
<circle cx="306.97" cy="454.59" r="2.55" fill="none" stroke="#c8325f" stroke-width="0.95"/>
<circle cx="315.92" cy="403.17" r="2.55" fill="none" stroke="#c8325f" stroke-width="0.95"/>
<circle cx="324.87" cy="459.75" r="2.55" fill="none" stroke="#c8325f" stroke-width="0.95"/>
<circle cx="333.82" cy="459.22" r="2.55" fill="none" stroke="#c8325f" stroke-width="0.95"/>
<circle cx="342.77" cy="435.21" r="2.55" fill="none" stroke="#c8325f" stroke-width="0.95"/>
<circle cx="351.72" cy="502.37" r="2.55" fill="none" stroke="#c8325f" stroke-width="0.95"/>
<circle cx="360.67" cy="472.94" r="2.55" fill="none" stroke="#c8325f" stroke-width="0.95"/>
<polyline points="56.38,375.89 65.33,390.47 74.28,403.17 83.22,408.41 92.17,409.89 101.12,409.89 110.07,409.89 119.03,409.89 127.97,396.34 136.92,394.39 145.88,391.12 154.82,386.42 163.77,384.24 172.72,384.91 181.67,382.18 190.62,386.27 199.57,374.55 208.53,378.14 217.47,352.23 226.42,377.18 235.38,365.23 244.32,372.25 253.27,347.48 262.22,373.95 271.17,388.50 280.12,338.91 289.07,337.60 298.02,358.68 306.97,367.71 315.92,342.19 324.87,332.66 333.82,397.80 342.77,438.34 351.72,344.37 360.67,335.88" fill="none" stroke="#b38f4f" stroke-width="1.2" stroke-dasharray="1,1.1"/>
<path d="M56.38,374.87 V376.91 M55.17,374.87 H57.58 M55.17,376.91 H57.58 M65.33,389.34 V391.62 M64.12,389.34 H66.53 M64.12,391.62 H66.53 M74.28,401.91 V404.46 M73.08,401.91 H75.48 M73.08,404.46 H75.48 M83.22,407.00 V409.84 M82.02,407.00 H84.42 M82.02,409.84 H84.42 M92.17,408.32 V411.50 M90.97,408.32 H93.38 M90.97,411.50 H93.38 M101.12,408.14 V411.68 M99.92,408.14 H102.33 M99.92,411.68 H102.33 M110.07,407.94 V411.89 M108.87,407.94 H111.27 M108.87,411.89 H111.27 M119.03,407.72 V412.13 M117.83,407.72 H120.23 M117.83,412.13 H120.23 M127.97,393.91 V398.83 M126.77,393.91 H129.17 M126.77,398.83 H129.17 M136.92,391.69 V397.19 M135.72,391.69 H138.12 M135.72,397.19 H138.12 M145.88,388.10 V394.24 M144.68,388.10 H147.07 M144.68,394.24 H147.07 M154.82,383.06 V389.91 M153.62,383.06 H156.02 M153.62,389.91 H156.02 M163.77,380.50 V388.15 M162.57,380.50 H164.97 M162.57,388.15 H164.97 M172.72,380.74 V389.29 M171.53,380.74 H173.92 M171.53,389.29 H173.92 M181.67,377.54 V387.08 M180.47,377.54 H182.87 M180.47,387.08 H182.87 M190.62,381.11 V391.76 M189.43,381.11 H191.82 M189.43,391.76 H191.82 M199.57,368.80 V380.70 M198.38,368.80 H200.77 M198.38,380.70 H200.77 M208.53,371.76 V385.04 M207.33,371.76 H209.72 M207.33,385.04 H209.72 M217.47,345.13 V359.96 M216.28,345.13 H218.67 M216.28,359.96 H218.67 M226.42,369.29 V385.86 M225.22,369.29 H227.62 M225.22,385.86 H227.62 M235.38,356.47 V374.98 M234.18,356.47 H236.57 M234.18,374.98 H236.57 M244.32,362.53 V383.20 M243.12,362.53 H245.52 M243.12,383.20 H245.52 M253.27,336.69 V359.80 M252.07,336.69 H254.47 M252.07,359.80 H254.47 M262.22,361.99 V387.82 M261.02,361.99 H263.42 M261.02,387.82 H263.42 M271.17,375.25 V404.14 M269.97,375.25 H272.37 M269.97,404.14 H272.37 M280.12,324.25 V356.57 M278.93,324.25 H281.32 M278.93,356.57 H281.32 M289.07,321.38 V357.56 M287.88,321.38 H290.27 M287.88,357.56 H290.27 M298.02,340.75 V381.29 M296.82,340.75 H299.22 M296.82,381.29 H299.22 M306.97,347.93 V393.38 M305.77,347.93 H308.17 M305.77,393.38 H308.17 M315.92,320.37 V371.40 M314.72,320.37 H317.12 M314.72,371.40 H317.12 M324.87,308.63 V366.01 M323.67,308.63 H326.07 M323.67,366.01 H326.07 M333.82,371.36 V436.01 M332.62,371.36 H335.02 M332.62,436.01 H335.02 M342.77,392.26 V490.00 M341.57,392.26 H343.97 M341.57,490.00 H343.97 M351.72,312.49 V395.27 M350.52,312.49 H352.92 M350.52,395.27 H352.92 M360.67,300.95 V395.23 M359.47,300.95 H361.87 M359.47,395.23 H361.87" stroke="#b38f4f" stroke-width="1" stroke-dasharray="1,1.1" fill="none"/>
<rect x="53.73" y="373.24" width="5.30" height="5.30" fill="none" stroke="#b38f4f" stroke-width="0.95"/>
<rect x="62.68" y="387.82" width="5.30" height="5.30" fill="none" stroke="#b38f4f" stroke-width="0.95"/>
<rect x="71.62" y="400.52" width="5.30" height="5.30" fill="none" stroke="#b38f4f" stroke-width="0.95"/>
<rect x="80.57" y="405.76" width="5.30" height="5.30" fill="none" stroke="#b38f4f" stroke-width="0.95"/>
<rect x="89.52" y="407.24" width="5.30" height="5.30" fill="none" stroke="#b38f4f" stroke-width="0.95"/>
<rect x="98.47" y="407.24" width="5.30" height="5.30" fill="none" stroke="#b38f4f" stroke-width="0.95"/>
<rect x="107.42" y="407.24" width="5.30" height="5.30" fill="none" stroke="#b38f4f" stroke-width="0.95"/>
<rect x="116.38" y="407.24" width="5.30" height="5.30" fill="none" stroke="#b38f4f" stroke-width="0.95"/>
<rect x="125.32" y="393.69" width="5.30" height="5.30" fill="none" stroke="#b38f4f" stroke-width="0.95"/>
<rect x="134.27" y="391.74" width="5.30" height="5.30" fill="none" stroke="#b38f4f" stroke-width="0.95"/>
<rect x="143.22" y="388.47" width="5.30" height="5.30" fill="none" stroke="#b38f4f" stroke-width="0.95"/>
<rect x="152.17" y="383.77" width="5.30" height="5.30" fill="none" stroke="#b38f4f" stroke-width="0.95"/>
<rect x="161.12" y="381.59" width="5.30" height="5.30" fill="none" stroke="#b38f4f" stroke-width="0.95"/>
<rect x="170.07" y="382.26" width="5.30" height="5.30" fill="none" stroke="#b38f4f" stroke-width="0.95"/>
<rect x="179.02" y="379.53" width="5.30" height="5.30" fill="none" stroke="#b38f4f" stroke-width="0.95"/>
<rect x="187.97" y="383.62" width="5.30" height="5.30" fill="none" stroke="#b38f4f" stroke-width="0.95"/>
<rect x="196.92" y="371.90" width="5.30" height="5.30" fill="none" stroke="#b38f4f" stroke-width="0.95"/>
<rect x="205.88" y="375.49" width="5.30" height="5.30" fill="none" stroke="#b38f4f" stroke-width="0.95"/>
<rect x="214.82" y="349.58" width="5.30" height="5.30" fill="none" stroke="#b38f4f" stroke-width="0.95"/>
<rect x="223.77" y="374.53" width="5.30" height="5.30" fill="none" stroke="#b38f4f" stroke-width="0.95"/>
<rect x="232.72" y="362.58" width="5.30" height="5.30" fill="none" stroke="#b38f4f" stroke-width="0.95"/>
<rect x="241.67" y="369.60" width="5.30" height="5.30" fill="none" stroke="#b38f4f" stroke-width="0.95"/>
<rect x="250.62" y="344.83" width="5.30" height="5.30" fill="none" stroke="#b38f4f" stroke-width="0.95"/>
<rect x="259.57" y="371.30" width="5.30" height="5.30" fill="none" stroke="#b38f4f" stroke-width="0.95"/>
<rect x="268.52" y="385.85" width="5.30" height="5.30" fill="none" stroke="#b38f4f" stroke-width="0.95"/>
<rect x="277.48" y="336.26" width="5.30" height="5.30" fill="none" stroke="#b38f4f" stroke-width="0.95"/>
<rect x="286.43" y="334.95" width="5.30" height="5.30" fill="none" stroke="#b38f4f" stroke-width="0.95"/>
<rect x="295.38" y="356.03" width="5.30" height="5.30" fill="none" stroke="#b38f4f" stroke-width="0.95"/>
<rect x="304.32" y="365.06" width="5.30" height="5.30" fill="none" stroke="#b38f4f" stroke-width="0.95"/>
<rect x="313.27" y="339.54" width="5.30" height="5.30" fill="none" stroke="#b38f4f" stroke-width="0.95"/>
<rect x="322.22" y="330.01" width="5.30" height="5.30" fill="none" stroke="#b38f4f" stroke-width="0.95"/>
<rect x="331.17" y="395.15" width="5.30" height="5.30" fill="none" stroke="#b38f4f" stroke-width="0.95"/>
<rect x="340.12" y="435.69" width="5.30" height="5.30" fill="none" stroke="#b38f4f" stroke-width="0.95"/>
<rect x="349.07" y="341.72" width="5.30" height="5.30" fill="none" stroke="#b38f4f" stroke-width="0.95"/>
<rect x="358.02" y="333.23" width="5.30" height="5.30" fill="none" stroke="#b38f4f" stroke-width="0.95"/>
<polyline points="56.38,380.53 65.33,392.49 74.28,403.17 83.22,406.18 92.17,404.01 101.12,403.92 110.07,403.08 119.03,403.92 127.97,398.24 136.92,392.58 145.88,391.92 154.82,388.19 163.77,386.19 172.72,388.81 181.67,387.65 190.62,394.39 199.57,400.00 208.53,390.71 217.47,398.67 226.42,394.39 235.38,381.46 244.32,412.74 253.27,387.19 262.22,390.63 271.17,379.26 280.12,398.06 289.07,429.03 298.02,409.70 306.97,379.47 315.92,402.71 324.87,427.30 333.82,393.81 342.77,361.43 351.72,410.40" fill="none" stroke="#a51931" stroke-width="1.2"/>
<path d="M56.38,379.14 V381.95 M55.17,379.14 H57.58 M55.17,381.95 H57.58 M65.33,390.94 V394.08 M64.12,390.94 H66.53 M64.12,394.08 H66.53 M74.28,401.44 V404.94 M73.08,401.44 H75.48 M73.08,404.94 H75.48 M83.22,404.25 V408.16 M82.02,404.25 H84.42 M82.02,408.16 H84.42 M92.17,401.86 V406.22 M90.97,401.86 H93.38 M90.97,406.22 H93.38 M101.12,401.52 V406.39 M99.92,401.52 H102.33 M99.92,406.39 H102.33 M110.07,400.41 V405.84 M108.87,400.41 H111.27 M108.87,405.84 H111.27 M119.03,400.93 V407.00 M117.83,400.93 H120.23 M117.83,407.00 H120.23 M127.97,394.91 V401.69 M126.77,394.91 H129.17 M126.77,401.69 H129.17 M136.92,388.88 V396.44 M135.72,388.88 H138.12 M135.72,396.44 H138.12 M145.88,387.80 V396.25 M144.68,387.80 H147.07 M144.68,396.25 H147.07 M154.82,383.60 V393.03 M153.62,383.60 H156.02 M153.62,393.03 H156.02 M163.77,381.09 V391.61 M162.57,381.09 H164.97 M162.57,391.61 H164.97 M172.72,383.14 V394.89 M171.53,383.14 H173.92 M171.53,394.89 H173.92 M181.67,381.33 V394.46 M180.47,381.33 H182.87 M180.47,394.46 H182.87 M190.62,387.37 V402.03 M189.43,387.37 H191.82 M189.43,402.03 H191.82 M199.57,392.20 V408.57 M198.38,392.20 H200.77 M198.38,408.57 H200.77 M208.53,382.05 V400.34 M207.33,382.05 H209.72 M207.33,400.34 H209.72 M217.47,389.05 V409.49 M216.28,389.05 H218.67 M216.28,409.49 H218.67 M226.42,383.72 V406.56 M225.22,383.72 H227.62 M225.22,406.56 H227.62 M235.38,369.63 V395.16 M234.18,369.63 H236.57 M234.18,395.16 H236.57 M244.32,399.63 V428.18 M243.12,399.63 H245.52 M243.12,428.18 H245.52 M253.27,372.67 V404.62 M252.07,372.67 H254.47 M252.07,404.62 H254.47 M262.22,374.58 V410.34 M261.02,374.58 H263.42 M261.02,410.34 H263.42 M271.17,361.52 V401.57 M269.97,361.52 H272.37 M269.97,401.57 H272.37 M280.12,378.48 V423.39 M278.93,378.48 H281.32 M278.93,423.39 H281.32 M289.07,407.43 V457.84 M287.88,407.43 H290.27 M287.88,457.84 H290.27 M298.02,385.90 V442.58 M296.82,385.90 H299.22 M296.82,442.58 H299.22 M306.97,353.29 V417.13 M305.77,353.29 H308.17 M305.77,417.13 H308.17 M315.92,373.94 V446.03 M314.72,373.94 H317.12 M314.72,446.03 H317.12 M324.87,395.73 V477.41 M323.67,395.73 H326.07 M323.67,477.41 H326.07 M333.82,359.21 V452.19 M332.62,359.21 H335.02 M332.62,452.19 H335.02 M342.77,323.58 V430.07 M341.57,323.58 H343.97 M341.57,430.07 H343.97 M351.72,369.04 V490.00 M350.52,369.04 H352.92 M350.52,490.00 H352.92" stroke="#a51931" stroke-width="1" fill="none"/>
<path d="M56.38,377.53 L59.38,382.78 L53.38,382.78 Z" fill="none" stroke="#a51931" stroke-width="1.1"/>
<path d="M65.33,389.49 L68.33,394.74 L62.33,394.74 Z" fill="none" stroke="#a51931" stroke-width="1.1"/>
<path d="M74.28,400.17 L77.28,405.42 L71.28,405.42 Z" fill="none" stroke="#a51931" stroke-width="1.1"/>
<path d="M83.22,403.18 L86.22,408.43 L80.22,408.43 Z" fill="none" stroke="#a51931" stroke-width="1.1"/>
<path d="M92.17,401.01 L95.17,406.26 L89.17,406.26 Z" fill="none" stroke="#a51931" stroke-width="1.1"/>
<path d="M101.12,400.92 L104.12,406.17 L98.12,406.17 Z" fill="none" stroke="#a51931" stroke-width="1.1"/>
<path d="M110.07,400.08 L113.07,405.33 L107.07,405.33 Z" fill="none" stroke="#a51931" stroke-width="1.1"/>
<path d="M119.03,400.92 L122.03,406.17 L116.03,406.17 Z" fill="none" stroke="#a51931" stroke-width="1.1"/>
<path d="M127.97,395.24 L130.97,400.49 L124.97,400.49 Z" fill="none" stroke="#a51931" stroke-width="1.1"/>
<path d="M136.92,389.58 L139.92,394.83 L133.92,394.83 Z" fill="none" stroke="#a51931" stroke-width="1.1"/>
<path d="M145.88,388.92 L148.88,394.17 L142.88,394.17 Z" fill="none" stroke="#a51931" stroke-width="1.1"/>
<path d="M154.82,385.19 L157.82,390.44 L151.82,390.44 Z" fill="none" stroke="#a51931" stroke-width="1.1"/>
<path d="M163.77,383.19 L166.77,388.44 L160.77,388.44 Z" fill="none" stroke="#a51931" stroke-width="1.1"/>
<path d="M172.72,385.81 L175.72,391.06 L169.72,391.06 Z" fill="none" stroke="#a51931" stroke-width="1.1"/>
<path d="M181.67,384.65 L184.67,389.90 L178.67,389.90 Z" fill="none" stroke="#a51931" stroke-width="1.1"/>
<path d="M190.62,391.39 L193.62,396.64 L187.62,396.64 Z" fill="none" stroke="#a51931" stroke-width="1.1"/>
<path d="M199.57,397.00 L202.57,402.25 L196.57,402.25 Z" fill="none" stroke="#a51931" stroke-width="1.1"/>
<path d="M208.53,387.71 L211.53,392.96 L205.53,392.96 Z" fill="none" stroke="#a51931" stroke-width="1.1"/>
<path d="M217.47,395.67 L220.47,400.92 L214.47,400.92 Z" fill="none" stroke="#a51931" stroke-width="1.1"/>
<path d="M226.42,391.39 L229.42,396.64 L223.42,396.64 Z" fill="none" stroke="#a51931" stroke-width="1.1"/>
<path d="M235.38,378.46 L238.38,383.71 L232.38,383.71 Z" fill="none" stroke="#a51931" stroke-width="1.1"/>
<path d="M244.32,409.74 L247.32,414.99 L241.32,414.99 Z" fill="none" stroke="#a51931" stroke-width="1.1"/>
<path d="M253.27,384.19 L256.27,389.44 L250.27,389.44 Z" fill="none" stroke="#a51931" stroke-width="1.1"/>
<path d="M262.22,387.63 L265.22,392.88 L259.22,392.88 Z" fill="none" stroke="#a51931" stroke-width="1.1"/>
<path d="M271.17,376.26 L274.17,381.51 L268.17,381.51 Z" fill="none" stroke="#a51931" stroke-width="1.1"/>
<path d="M280.12,395.06 L283.12,400.31 L277.12,400.31 Z" fill="none" stroke="#a51931" stroke-width="1.1"/>
<path d="M289.07,426.03 L292.07,431.28 L286.07,431.28 Z" fill="none" stroke="#a51931" stroke-width="1.1"/>
<path d="M298.02,406.70 L301.02,411.95 L295.02,411.95 Z" fill="none" stroke="#a51931" stroke-width="1.1"/>
<path d="M306.97,376.47 L309.97,381.72 L303.97,381.72 Z" fill="none" stroke="#a51931" stroke-width="1.1"/>
<path d="M315.92,399.71 L318.92,404.96 L312.92,404.96 Z" fill="none" stroke="#a51931" stroke-width="1.1"/>
<path d="M324.87,424.30 L327.87,429.55 L321.87,429.55 Z" fill="none" stroke="#a51931" stroke-width="1.1"/>
<path d="M333.82,390.81 L336.82,396.06 L330.82,396.06 Z" fill="none" stroke="#a51931" stroke-width="1.1"/>
<path d="M342.77,358.43 L345.77,363.68 L339.77,363.68 Z" fill="none" stroke="#a51931" stroke-width="1.1"/>
<path d="M351.72,407.40 L354.72,412.65 L348.72,412.65 Z" fill="none" stroke="#a51931" stroke-width="1.1"/>
<polyline points="56.38,321.77 65.33,362.24 74.28,389.60 83.22,410.70 92.17,418.93 101.12,426.94 110.07,436.42 119.03,434.95 127.97,434.42 136.92,434.42 145.88,432.97 154.82,428.28 163.77,428.28 172.72,431.94 181.67,412.22 190.62,428.65 199.57,425.97 208.53,418.93 217.47,413.15 226.42,417.83 235.38,402.25 244.32,420.84 253.27,426.21 262.22,394.56 271.17,411.91 280.12,407.82 289.07,406.95 298.02,366.74 306.97,410.90 315.92,425.73 324.87,385.66 333.82,473.14 342.77,353.99 351.72,477.38 360.67,452.94" fill="none" stroke="#ff7f2a" stroke-width="1.2" stroke-dasharray="4.2,1.5,1.2,1.5"/>
<path d="M56.38,320.37 V323.18 M55.17,320.37 H57.58 M55.17,323.18 H57.58 M65.33,360.68 V363.82 M64.12,360.68 H66.53 M64.12,363.82 H66.53 M74.28,387.87 V391.37 M73.08,387.87 H75.48 M73.08,391.37 H75.48 M83.22,408.77 V412.67 M82.02,408.77 H84.42 M82.02,412.67 H84.42 M92.17,416.78 V421.14 M90.97,416.78 H93.38 M90.97,421.14 H93.38 M101.12,424.54 V429.40 M99.92,424.54 H102.33 M99.92,429.40 H102.33 M110.07,433.75 V439.19 M108.87,433.75 H111.27 M108.87,439.19 H111.27 M119.03,431.97 V438.03 M117.83,431.97 H120.23 M117.83,438.03 H120.23 M127.97,431.09 V437.87 M126.77,431.09 H129.17 M126.77,437.87 H129.17 M136.92,430.72 V438.28 M135.72,430.72 H138.12 M135.72,438.28 H138.12 M145.88,428.85 V437.30 M144.68,428.85 H147.07 M144.68,437.30 H147.07 M154.82,423.70 V433.12 M153.62,423.70 H156.02 M153.62,433.12 H156.02 M163.77,423.18 V433.71 M162.57,423.18 H164.97 M162.57,433.71 H164.97 M172.72,426.26 V438.01 M171.53,426.26 H173.92 M171.53,438.01 H173.92 M181.67,405.91 V419.03 M180.47,405.91 H182.87 M180.47,419.03 H182.87 M190.62,421.63 V436.29 M189.43,421.63 H191.82 M189.43,436.29 H191.82 M199.57,418.17 V434.54 M198.38,418.17 H200.77 M198.38,434.54 H200.77 M208.53,410.27 V428.56 M207.33,410.27 H209.72 M207.33,428.56 H209.72 M217.47,403.53 V423.97 M216.28,403.53 H218.67 M216.28,423.97 H218.67 M226.42,407.16 V430.00 M225.22,407.16 H227.62 M225.22,430.00 H227.62 M235.38,390.42 V415.96 M234.18,390.42 H236.57 M234.18,415.96 H236.57 M244.32,407.73 V436.28 M243.12,407.73 H245.52 M243.12,436.28 H245.52 M253.27,411.70 V443.64 M252.07,411.70 H254.47 M252.07,443.64 H254.47 M262.22,378.51 V414.27 M261.02,378.51 H263.42 M261.02,414.27 H263.42 M271.17,394.18 V434.23 M269.97,394.18 H272.37 M269.97,434.23 H272.37 M280.12,388.24 V433.15 M278.93,388.24 H281.32 M278.93,433.15 H281.32 M289.07,385.35 V435.77 M287.88,385.35 H290.27 M287.88,435.77 H290.27 M298.02,342.94 V399.62 M296.82,342.94 H299.22 M296.82,399.62 H299.22 M306.97,384.72 V448.56 M305.77,384.72 H308.17 M305.77,448.56 H308.17 M315.92,396.96 V469.05 M314.72,396.96 H317.12 M314.72,469.05 H317.12 M324.87,354.09 V435.77 M323.67,354.09 H326.07 M323.67,435.77 H326.07 M333.82,427.06 V490.00 M332.62,427.06 H335.02 M332.62,490.00 H335.02 M342.77,316.14 V422.63 M341.57,316.14 H343.97 M341.57,422.63 H343.97 M351.72,436.03 V490.00 M350.52,436.03 H352.92 M350.52,490.00 H352.92 M360.67,407.84 V490.00 M359.47,407.84 H361.87 M359.47,490.00 H361.87" stroke="#ff7f2a" stroke-width="1" stroke-dasharray="4.2,1.5,1.2,1.5" fill="none"/>
<rect x="54.12" y="319.52" width="4.50" height="4.50" fill="#ff7f2a"/>
<rect x="63.08" y="359.99" width="4.50" height="4.50" fill="#ff7f2a"/>
<rect x="72.03" y="387.35" width="4.50" height="4.50" fill="#ff7f2a"/>
<rect x="80.97" y="408.45" width="4.50" height="4.50" fill="#ff7f2a"/>
<rect x="89.92" y="416.68" width="4.50" height="4.50" fill="#ff7f2a"/>
<rect x="98.88" y="424.69" width="4.50" height="4.50" fill="#ff7f2a"/>
<rect x="107.82" y="434.17" width="4.50" height="4.50" fill="#ff7f2a"/>
<rect x="116.78" y="432.70" width="4.50" height="4.50" fill="#ff7f2a"/>
<rect x="125.72" y="432.17" width="4.50" height="4.50" fill="#ff7f2a"/>
<rect x="134.67" y="432.17" width="4.50" height="4.50" fill="#ff7f2a"/>
<rect x="143.62" y="430.72" width="4.50" height="4.50" fill="#ff7f2a"/>
<rect x="152.57" y="426.03" width="4.50" height="4.50" fill="#ff7f2a"/>
<rect x="161.52" y="426.03" width="4.50" height="4.50" fill="#ff7f2a"/>
<rect x="170.47" y="429.69" width="4.50" height="4.50" fill="#ff7f2a"/>
<rect x="179.42" y="409.97" width="4.50" height="4.50" fill="#ff7f2a"/>
<rect x="188.38" y="426.40" width="4.50" height="4.50" fill="#ff7f2a"/>
<rect x="197.32" y="423.72" width="4.50" height="4.50" fill="#ff7f2a"/>
<rect x="206.28" y="416.68" width="4.50" height="4.50" fill="#ff7f2a"/>
<rect x="215.22" y="410.90" width="4.50" height="4.50" fill="#ff7f2a"/>
<rect x="224.17" y="415.58" width="4.50" height="4.50" fill="#ff7f2a"/>
<rect x="233.12" y="400.00" width="4.50" height="4.50" fill="#ff7f2a"/>
<rect x="242.07" y="418.59" width="4.50" height="4.50" fill="#ff7f2a"/>
<rect x="251.02" y="423.96" width="4.50" height="4.50" fill="#ff7f2a"/>
<rect x="259.97" y="392.31" width="4.50" height="4.50" fill="#ff7f2a"/>
<rect x="268.92" y="409.66" width="4.50" height="4.50" fill="#ff7f2a"/>
<rect x="277.88" y="405.57" width="4.50" height="4.50" fill="#ff7f2a"/>
<rect x="286.82" y="404.70" width="4.50" height="4.50" fill="#ff7f2a"/>
<rect x="295.77" y="364.49" width="4.50" height="4.50" fill="#ff7f2a"/>
<rect x="304.72" y="408.65" width="4.50" height="4.50" fill="#ff7f2a"/>
<rect x="313.67" y="423.48" width="4.50" height="4.50" fill="#ff7f2a"/>
<rect x="322.62" y="383.41" width="4.50" height="4.50" fill="#ff7f2a"/>
<rect x="331.57" y="470.89" width="4.50" height="4.50" fill="#ff7f2a"/>
<rect x="340.52" y="351.74" width="4.50" height="4.50" fill="#ff7f2a"/>
<rect x="349.47" y="475.13" width="4.50" height="4.50" fill="#ff7f2a"/>
<rect x="358.42" y="450.69" width="4.50" height="4.50" fill="#ff7f2a"/>
<polyline points="56.38,365.23 65.33,386.57 74.28,403.17 83.22,407.43 92.17,408.51 101.12,409.20 110.07,408.51 119.03,408.51 127.97,401.35 136.92,396.08 145.88,397.80 154.82,399.82 163.77,392.74 172.72,395.83 181.67,395.83 190.62,392.25 199.57,392.99 208.53,386.42 217.47,399.82 226.42,400.71 235.38,399.02 244.32,393.98 253.27,379.12 262.22,404.10 271.17,405.52 280.12,415.89 289.07,395.23 298.02,410.40 306.97,390.63 315.92,365.83 324.87,408.21 333.82,418.71 342.77,330.12 351.72,500.93 360.67,478.47" fill="none" stroke="#1010e6" stroke-width="1.2"/>
<path d="M56.38,363.96 V366.52 M55.17,363.96 H57.58 M55.17,366.52 H57.58 M65.33,385.16 V388.01 M64.12,385.16 H66.53 M64.12,388.01 H66.53 M74.28,401.60 V404.78 M73.08,401.60 H75.48 M73.08,404.78 H75.48 M83.22,405.68 V409.23 M82.02,405.68 H84.42 M82.02,409.23 H84.42 M92.17,406.55 V410.51 M90.97,406.55 H93.38 M90.97,410.51 H93.38 M101.12,407.01 V411.44 M99.92,407.01 H102.33 M99.92,411.44 H102.33 M110.07,406.07 V411.01 M108.87,406.07 H111.27 M108.87,411.01 H111.27 M119.03,405.79 V411.31 M117.83,405.79 H120.23 M117.83,411.31 H120.23 M127.97,398.32 V404.48 M126.77,398.32 H129.17 M126.77,404.48 H129.17 M136.92,392.71 V399.59 M135.72,392.71 H138.12 M135.72,399.59 H138.12 M145.88,394.05 V401.72 M144.68,394.05 H147.07 M144.68,401.72 H147.07 M154.82,395.64 V404.21 M153.62,395.64 H156.02 M153.62,404.21 H156.02 M163.77,388.09 V397.66 M162.57,388.09 H164.97 M162.57,397.66 H164.97 M172.72,390.65 V401.33 M171.53,390.65 H173.92 M171.53,401.33 H173.92 M181.67,390.07 V401.99 M180.47,390.07 H182.87 M180.47,401.99 H182.87 M190.62,385.84 V399.17 M189.43,385.84 H191.82 M189.43,399.17 H191.82 M199.57,385.86 V400.74 M198.38,385.86 H200.77 M198.38,400.74 H200.77 M208.53,378.51 V395.13 M207.33,378.51 H209.72 M207.33,395.13 H209.72 M217.47,391.03 V409.60 M216.28,391.03 H218.67 M216.28,409.60 H218.67 M226.42,390.96 V411.70 M225.22,390.96 H227.62 M225.22,411.70 H227.62 M235.38,388.21 V411.39 M234.18,388.21 H236.57 M234.18,411.39 H236.57 M244.32,381.98 V407.90 M243.12,381.98 H245.52 M243.12,407.90 H245.52 M253.27,365.83 V394.81 M252.07,365.83 H254.47 M252.07,394.81 H254.47 M262.22,389.39 V421.82 M261.02,389.39 H263.42 M261.02,421.82 H263.42 M271.17,389.25 V425.55 M269.97,389.25 H272.37 M269.97,425.55 H272.37 M280.12,397.91 V438.58 M278.93,397.91 H281.32 M278.93,438.58 H281.32 M289.07,375.39 V421.00 M287.88,375.39 H290.27 M287.88,421.00 H290.27 M298.02,388.51 V439.72 M296.82,388.51 H299.22 M296.82,439.72 H299.22 M306.97,366.53 V424.11 M305.77,366.53 H308.17 M305.77,424.11 H308.17 M315.92,339.31 V404.19 M314.72,339.31 H317.12 M314.72,404.19 H317.12 M324.87,379.08 V452.37 M323.67,379.08 H326.07 M323.67,452.37 H326.07 M333.82,386.75 V469.83 M332.62,386.75 H335.02 M332.62,469.83 H335.02 M342.77,295.10 V389.73 M341.57,295.10 H343.97 M341.57,389.73 H343.97 M351.72,380.53 V490.00 M350.52,380.53 H352.92 M350.52,490.00 H352.92 M360.67,358.07 V490.00 M359.47,358.07 H361.87 M359.47,490.00 H361.87" stroke="#1010e6" stroke-width="1" fill="none"/>
<path d="M56.38,362.03 L59.58,367.63 L53.17,367.63 Z" fill="#1010e6"/>
<path d="M65.33,383.37 L68.53,388.97 L62.12,388.97 Z" fill="#1010e6"/>
<path d="M74.28,399.97 L77.48,405.57 L71.08,405.57 Z" fill="#1010e6"/>
<path d="M83.22,404.23 L86.42,409.83 L80.02,409.83 Z" fill="#1010e6"/>
<path d="M92.17,405.31 L95.38,410.91 L88.97,410.91 Z" fill="#1010e6"/>
<path d="M101.12,406.00 L104.33,411.60 L97.92,411.60 Z" fill="#1010e6"/>
<path d="M110.07,405.31 L113.27,410.91 L106.87,410.91 Z" fill="#1010e6"/>
<path d="M119.03,405.31 L122.23,410.91 L115.83,410.91 Z" fill="#1010e6"/>
<path d="M127.97,398.15 L131.17,403.75 L124.77,403.75 Z" fill="#1010e6"/>
<path d="M136.92,392.88 L140.12,398.48 L133.72,398.48 Z" fill="#1010e6"/>
<path d="M145.88,394.60 L149.07,400.20 L142.68,400.20 Z" fill="#1010e6"/>
<path d="M154.82,396.62 L158.02,402.22 L151.62,402.22 Z" fill="#1010e6"/>
<path d="M163.77,389.54 L166.97,395.14 L160.57,395.14 Z" fill="#1010e6"/>
<path d="M172.72,392.63 L175.92,398.23 L169.53,398.23 Z" fill="#1010e6"/>
<path d="M181.67,392.63 L184.87,398.23 L178.47,398.23 Z" fill="#1010e6"/>
<path d="M190.62,389.05 L193.82,394.65 L187.43,394.65 Z" fill="#1010e6"/>
<path d="M199.57,389.79 L202.77,395.39 L196.38,395.39 Z" fill="#1010e6"/>
<path d="M208.53,383.22 L211.72,388.82 L205.33,388.82 Z" fill="#1010e6"/>
<path d="M217.47,396.62 L220.67,402.22 L214.28,402.22 Z" fill="#1010e6"/>
<path d="M226.42,397.51 L229.62,403.11 L223.22,403.11 Z" fill="#1010e6"/>
<path d="M235.38,395.82 L238.57,401.42 L232.18,401.42 Z" fill="#1010e6"/>
<path d="M244.32,390.78 L247.52,396.38 L241.12,396.38 Z" fill="#1010e6"/>
<path d="M253.27,375.92 L256.47,381.52 L250.07,381.52 Z" fill="#1010e6"/>
<path d="M262.22,400.90 L265.42,406.50 L259.02,406.50 Z" fill="#1010e6"/>
<path d="M271.17,402.32 L274.37,407.92 L267.97,407.92 Z" fill="#1010e6"/>
<path d="M280.12,412.69 L283.32,418.29 L276.93,418.29 Z" fill="#1010e6"/>
<path d="M289.07,392.03 L292.27,397.63 L285.88,397.63 Z" fill="#1010e6"/>
<path d="M298.02,407.20 L301.22,412.80 L294.82,412.80 Z" fill="#1010e6"/>
<path d="M306.97,387.43 L310.17,393.03 L303.77,393.03 Z" fill="#1010e6"/>
<path d="M315.92,362.63 L319.12,368.23 L312.72,368.23 Z" fill="#1010e6"/>
<path d="M324.87,405.01 L328.07,410.61 L321.67,410.61 Z" fill="#1010e6"/>
<path d="M333.82,415.51 L337.02,421.11 L330.62,421.11 Z" fill="#1010e6"/>
<path d="M342.77,326.92 L345.97,332.52 L339.57,332.52 Z" fill="#1010e6"/>
<path d="M351.72,497.73 L354.92,503.33 L348.52,503.33 Z" fill="#1010e6"/>
<path d="M360.67,475.27 L363.87,480.87 L357.47,480.87 Z" fill="#1010e6"/>
</g>
<rect x="45.5" y="17.4" width="325.70" height="300.00" fill="none" stroke="#000" stroke-width="1.1"/>
<rect x="45.5" y="317.4" width="325.70" height="160.20" fill="none" stroke="#000" stroke-width="1.1"/>
<path d="M51.90,17.40v8.2 M51.90,317.40v-8.2 M51.90,317.40v4.6 M51.90,477.60v-4.6 M60.85,17.40v2.5 M60.85,317.40v-2.5 M60.85,317.40v1.4 M60.85,477.60v-1.4 M69.80,17.40v4.0 M69.80,317.40v-4.0 M69.80,317.40v2.5 M69.80,477.60v-2.5 M78.75,17.40v2.5 M78.75,317.40v-2.5 M78.75,317.40v1.4 M78.75,477.60v-1.4 M87.70,17.40v4.0 M87.70,317.40v-4.0 M87.70,317.40v2.5 M87.70,477.60v-2.5 M96.65,17.40v2.5 M96.65,317.40v-2.5 M96.65,317.40v1.4 M96.65,477.60v-1.4 M105.60,17.40v4.0 M105.60,317.40v-4.0 M105.60,317.40v2.5 M105.60,477.60v-2.5 M114.55,17.40v2.5 M114.55,317.40v-2.5 M114.55,317.40v1.4 M114.55,477.60v-1.4 M123.50,17.40v4.0 M123.50,317.40v-4.0 M123.50,317.40v2.5 M123.50,477.60v-2.5 M132.45,17.40v2.5 M132.45,317.40v-2.5 M132.45,317.40v1.4 M132.45,477.60v-1.4 M141.40,17.40v8.2 M141.40,317.40v-8.2 M141.40,317.40v4.6 M141.40,477.60v-4.6 M150.35,17.40v2.5 M150.35,317.40v-2.5 M150.35,317.40v1.4 M150.35,477.60v-1.4 M159.30,17.40v4.0 M159.30,317.40v-4.0 M159.30,317.40v2.5 M159.30,477.60v-2.5 M168.25,17.40v2.5 M168.25,317.40v-2.5 M168.25,317.40v1.4 M168.25,477.60v-1.4 M177.20,17.40v4.0 M177.20,317.40v-4.0 M177.20,317.40v2.5 M177.20,477.60v-2.5 M186.15,17.40v2.5 M186.15,317.40v-2.5 M186.15,317.40v1.4 M186.15,477.60v-1.4 M195.10,17.40v4.0 M195.10,317.40v-4.0 M195.10,317.40v2.5 M195.10,477.60v-2.5 M204.05,17.40v2.5 M204.05,317.40v-2.5 M204.05,317.40v1.4 M204.05,477.60v-1.4 M213.00,17.40v4.0 M213.00,317.40v-4.0 M213.00,317.40v2.5 M213.00,477.60v-2.5 M221.95,17.40v2.5 M221.95,317.40v-2.5 M221.95,317.40v1.4 M221.95,477.60v-1.4 M230.90,17.40v8.2 M230.90,317.40v-8.2 M230.90,317.40v4.6 M230.90,477.60v-4.6 M239.85,17.40v2.5 M239.85,317.40v-2.5 M239.85,317.40v1.4 M239.85,477.60v-1.4 M248.80,17.40v4.0 M248.80,317.40v-4.0 M248.80,317.40v2.5 M248.80,477.60v-2.5 M257.75,17.40v2.5 M257.75,317.40v-2.5 M257.75,317.40v1.4 M257.75,477.60v-1.4 M266.70,17.40v4.0 M266.70,317.40v-4.0 M266.70,317.40v2.5 M266.70,477.60v-2.5 M275.65,17.40v2.5 M275.65,317.40v-2.5 M275.65,317.40v1.4 M275.65,477.60v-1.4 M284.60,17.40v4.0 M284.60,317.40v-4.0 M284.60,317.40v2.5 M284.60,477.60v-2.5 M293.55,17.40v2.5 M293.55,317.40v-2.5 M293.55,317.40v1.4 M293.55,477.60v-1.4 M302.50,17.40v4.0 M302.50,317.40v-4.0 M302.50,317.40v2.5 M302.50,477.60v-2.5 M311.45,17.40v2.5 M311.45,317.40v-2.5 M311.45,317.40v1.4 M311.45,477.60v-1.4 M320.40,17.40v8.2 M320.40,317.40v-8.2 M320.40,317.40v4.6 M320.40,477.60v-4.6 M329.35,17.40v2.5 M329.35,317.40v-2.5 M329.35,317.40v1.4 M329.35,477.60v-1.4 M338.30,17.40v4.0 M338.30,317.40v-4.0 M338.30,317.40v2.5 M338.30,477.60v-2.5 M347.25,17.40v2.5 M347.25,317.40v-2.5 M347.25,317.40v1.4 M347.25,477.60v-1.4 M356.20,17.40v4.0 M356.20,317.40v-4.0 M356.20,317.40v2.5 M356.20,477.60v-2.5 M365.15,17.40v2.5 M365.15,317.40v-2.5 M365.15,317.40v1.4 M365.15,477.60v-1.4 M45.50,61.40h11.5 M371.20,61.40h-11.5 M45.50,46.82h5.5 M371.20,46.82h-5.5 M45.50,38.30h5.5 M371.20,38.30h-5.5 M45.50,32.25h5.5 M371.20,32.25h-5.5 M45.50,27.56h5.5 M371.20,27.56h-5.5 M45.50,23.72h5.5 M371.20,23.72h-5.5 M45.50,20.48h5.5 M371.20,20.48h-5.5 M45.50,17.67h5.5 M371.20,17.67h-5.5 M45.50,109.82h11.5 M371.20,109.82h-11.5 M45.50,95.24h5.5 M371.20,95.24h-5.5 M45.50,86.72h5.5 M371.20,86.72h-5.5 M45.50,80.67h5.5 M371.20,80.67h-5.5 M45.50,75.98h5.5 M371.20,75.98h-5.5 M45.50,72.14h5.5 M371.20,72.14h-5.5 M45.50,68.90h5.5 M371.20,68.90h-5.5 M45.50,66.09h5.5 M371.20,66.09h-5.5 M45.50,63.62h5.5 M371.20,63.62h-5.5 M45.50,158.24h11.5 M371.20,158.24h-11.5 M45.50,143.66h5.5 M371.20,143.66h-5.5 M45.50,135.14h5.5 M371.20,135.14h-5.5 M45.50,129.09h5.5 M371.20,129.09h-5.5 M45.50,124.40h5.5 M371.20,124.40h-5.5 M45.50,120.56h5.5 M371.20,120.56h-5.5 M45.50,117.32h5.5 M371.20,117.32h-5.5 M45.50,114.51h5.5 M371.20,114.51h-5.5 M45.50,112.04h5.5 M371.20,112.04h-5.5 M45.50,206.66h11.5 M371.20,206.66h-11.5 M45.50,192.08h5.5 M371.20,192.08h-5.5 M45.50,183.56h5.5 M371.20,183.56h-5.5 M45.50,177.51h5.5 M371.20,177.51h-5.5 M45.50,172.82h5.5 M371.20,172.82h-5.5 M45.50,168.98h5.5 M371.20,168.98h-5.5 M45.50,165.74h5.5 M371.20,165.74h-5.5 M45.50,162.93h5.5 M371.20,162.93h-5.5 M45.50,160.46h5.5 M371.20,160.46h-5.5 M45.50,255.08h11.5 M371.20,255.08h-11.5 M45.50,240.50h5.5 M371.20,240.50h-5.5 M45.50,231.98h5.5 M371.20,231.98h-5.5 M45.50,225.93h5.5 M371.20,225.93h-5.5 M45.50,221.24h5.5 M371.20,221.24h-5.5 M45.50,217.40h5.5 M371.20,217.40h-5.5 M45.50,214.16h5.5 M371.20,214.16h-5.5 M45.50,211.35h5.5 M371.20,211.35h-5.5 M45.50,208.88h5.5 M371.20,208.88h-5.5 M45.50,303.50h11.5 M371.20,303.50h-11.5 M45.50,288.92h5.5 M371.20,288.92h-5.5 M45.50,280.40h5.5 M371.20,280.40h-5.5 M45.50,274.35h5.5 M371.20,274.35h-5.5 M45.50,269.66h5.5 M371.20,269.66h-5.5 M45.50,265.82h5.5 M371.20,265.82h-5.5 M45.50,262.58h5.5 M371.20,262.58h-5.5 M45.50,259.77h5.5 M371.20,259.77h-5.5 M45.50,257.30h5.5 M371.20,257.30h-5.5 M45.50,314.24h5.5 M371.20,314.24h-5.5 M45.50,311.00h5.5 M371.20,311.00h-5.5 M45.50,308.19h5.5 M371.20,308.19h-5.5 M45.50,305.72h5.5 M371.20,305.72h-5.5 M45.50,477.38h5.2 M371.20,477.38h-5.2 M45.50,458.00h7.5 M371.20,458.00h-7.5 M45.50,442.17h5.2 M371.20,442.17h-5.2 M45.50,428.78h5.2 M371.20,428.78h-5.2 M45.50,417.18h5.2 M371.20,417.18h-5.2 M45.50,406.95h5.2 M371.20,406.95h-5.2 M45.50,397.80h7.5 M371.20,397.80h-7.5 M45.50,389.52h5.2 M371.20,389.52h-5.2 M45.50,381.97h5.2 M371.20,381.97h-5.2 M45.50,375.01h5.2 M371.20,375.01h-5.2 M45.50,368.58h5.2 M371.20,368.58h-5.2 M45.50,362.59h5.2 M371.20,362.59h-5.2 M45.50,356.98h5.2 M371.20,356.98h-5.2 M45.50,351.71h5.2 M371.20,351.71h-5.2 M45.50,346.75h5.2 M371.20,346.75h-5.2 M45.50,342.05h5.2 M371.20,342.05h-5.2 M45.50,337.60h7.5 M371.20,337.60h-7.5 M45.50,333.36h5.2 M371.20,333.36h-5.2 M45.50,329.32h5.2 M371.20,329.32h-5.2 M45.50,325.46h5.2 M371.20,325.46h-5.2 M45.50,321.77h5.2 M371.20,321.77h-5.2 M45.50,318.22h5.2 M371.20,318.22h-5.2" stroke="#000" stroke-width="1" fill="none"/>
<g font-size="11" fill="#000">
<text x="40" y="65.40" text-anchor="end">1</text>
<text x="33" y="115.02" text-anchor="end">10</text>
<text x="33.3" y="110.42" font-size="8">−1</text>
<text x="33" y="163.44" text-anchor="end">10</text>
<text x="33.3" y="158.84" font-size="8">−2</text>
<text x="33" y="211.86" text-anchor="end">10</text>
<text x="33.3" y="207.26" font-size="8">−3</text>
<text x="33" y="260.28" text-anchor="end">10</text>
<text x="33.3" y="255.68" font-size="8">−4</text>
<text x="33" y="308.70" text-anchor="end">10</text>
<text x="33.3" y="304.10" font-size="8">−5</text>
<text x="39" y="341.40" text-anchor="end" font-size="12">2</text>
<text x="373.6" y="341.40" font-size="12">2</text>
<text x="39" y="401.60" text-anchor="end" font-size="12">1</text>
<text x="373.6" y="401.60" font-size="12">1</text>
<text x="39" y="461.80" text-anchor="end" font-size="12">0.5</text>
<text x="373.6" y="461.80" font-size="12">0.5</text>
<text x="51.90" y="489" text-anchor="middle">0</text>
<text x="141.40" y="489" text-anchor="middle">10</text>
<text x="230.90" y="489" text-anchor="middle">20</text>
<text x="320.40" y="489" text-anchor="middle">30</text>
</g>
<text x="51.2" y="13.5" font-size="12.1">7000 GeV pp</text>
<text x="367.6" y="13.5" font-size="12.1" text-anchor="end">Underlying Event</text>
<g font-size="12.1" fill="#000">
<text x="74.3" y="41.2">Transverse</text>
<path d="M136.7,28.2 L150.3,28.2 L151.0,31.8 L150.4,31.8 L149.0,29.7 L140.4,29.7 L145.9,37.6 L138.8,45.8 L147.8,45.8 L150.7,43.0 L151.3,43.0 L149.9,47.4 L136.6,47.4 L136.6,46.8 L144.5,38.4 L136.7,28.6 Z" fill="#000"/>
<text x="151.2" y="41.2">(p</text>
<text x="162.2" y="51.8" font-size="8.2">T</text>
<text x="166.6" y="41.2">),</text>
<text x="177.4" y="41.2">p</text>
<text x="183.8" y="47.9" font-size="8.2">T</text>
<text x="183.8" y="34.1" font-size="7.9" textLength="13.4" lengthAdjust="spacingAndGlyphs">jet 1</text>
<text x="199.2" y="41.2">&gt;</text>
<text x="209.8" y="41.2">{3 GeV},</text>
<path d="M257.6,37.6 L258.6,36.9 L259.9,41.3 L261.5,31.2 L268.6,31.2" fill="none" stroke="#000" stroke-width="0.9"/>
<text x="261.8" y="41.2">s</text>
<text x="271.2" y="41.2">=</text>
<text x="282.0" y="41.2">{7000 GeV}</text>
</g>
<text transform="translate(380.6,126.7) rotate(-90)" font-size="10.1" fill="#7d7d7d" textLength="108.3" lengthAdjust="spacingAndGlyphs">Rivet 4.1.0, ≥ 100k events</text>
<text transform="translate(380.6,313.3) rotate(-90)" font-size="10.1" fill="#7d7d7d" textLength="146" lengthAdjust="spacingAndGlyphs">mcplots.cern.ch [arXiv:2401.10621]</text>
<text transform="translate(17.4,422.8) rotate(-90)" font-size="9.9" fill="#000" textLength="53" lengthAdjust="spacingAndGlyphs">Ratio to CMS</text>
<text x="169.2" y="302.3" font-size="8.5" fill="#999" textLength="76.7" lengthAdjust="spacingAndGlyphs">(CMS_2011_I916908)</text>
<rect x="73.7" y="208.10" width="5.2" height="5.2" fill="#000"/>
<line x1="64" y1="223.90" x2="88.6" y2="223.90" stroke="#c8325f" stroke-width="0.9" stroke-opacity="0.8" stroke-dasharray="2.4,2.1"/>
<circle cx="76.40" cy="223.90" r="2.55" fill="none" stroke="#c8325f" stroke-width="0.95"/>
<line x1="64" y1="237.10" x2="88.6" y2="237.10" stroke="#b38f4f" stroke-width="0.9" stroke-opacity="0.8" stroke-dasharray="1,1.1"/>
<rect x="73.75" y="234.45" width="5.30" height="5.30" fill="none" stroke="#b38f4f" stroke-width="0.95"/>
<line x1="64" y1="250.20" x2="88.6" y2="250.20" stroke="#a51931" stroke-width="0.9" stroke-opacity="0.8"/>
<path d="M76.40,247.20 L79.40,252.45 L73.40,252.45 Z" fill="none" stroke="#a51931" stroke-width="1.1"/>
<line x1="64" y1="263.00" x2="88.6" y2="263.00" stroke="#ff7f2a" stroke-width="0.9" stroke-opacity="0.8" stroke-dasharray="4.2,1.5,1.2,1.5"/>
<rect x="74.15" y="260.75" width="4.50" height="4.50" fill="#ff7f2a"/>
<line x1="64" y1="276.00" x2="88.6" y2="276.00" stroke="#1010e6" stroke-width="0.9" stroke-opacity="0.8"/>
<path d="M76.40,272.80 L79.60,278.40 L73.20,278.40 Z" fill="#1010e6"/>
<g font-size="9.1" fill="#000" letter-spacing="0.22">
<text x="94" y="214.10">CMS</text>
<text x="94" y="227.30">Pythia 6.428 345</text>
<text x="94" y="240.50">Pythia 6.428 346</text>
<text x="94" y="253.60">Pythia 6.428 370</text>
<text x="94" y="266.40">Pythia 6.428 default</text>
<text x="94" y="279.40">Pythia 8.315 default</text>
</g>
</svg></body></html>
